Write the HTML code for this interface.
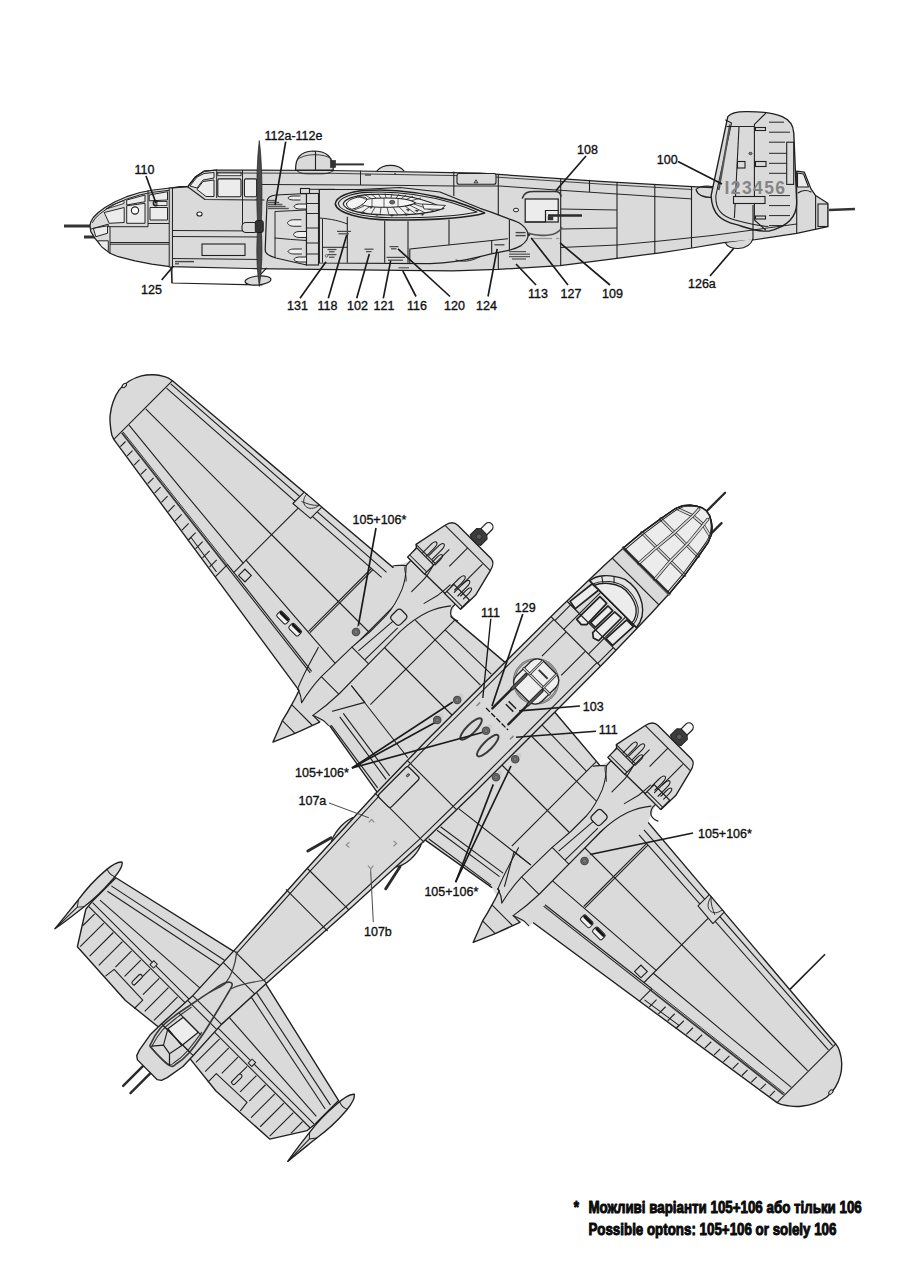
<!DOCTYPE html>
<html><head><meta charset="utf-8"><title>B-25 decal placement</title>
<style>
html,body{margin:0;padding:0;background:#fff;}
body{width:900px;height:1273px;overflow:hidden;position:relative;font-family:"Liberation Sans",sans-serif;}
svg{position:absolute;left:0;top:0;display:block;}
svg text{font-family:"Liberation Sans",sans-serif;}
</style></head><body>
<svg width="900" height="1273" viewBox="0 0 900 1273">
<g id="side">
<line x1="64.0" y1="226.0" x2="91.0" y2="226.0" stroke="#333333" stroke-width="3.0" />
<line x1="84.0" y1="237.0" x2="97.0" y2="237.0" stroke="#333333" stroke-width="3.0" />
<line x1="829.0" y1="210.0" x2="855.0" y2="209.0" stroke="#333333" stroke-width="2.6" />
<polygon points="90.0,225.8 90.8,221.7 93.3,217.5 98.3,212.5 105.0,207.5 115.0,201.7 126.7,196.7 140.0,192.5 153.3,190.0 170.0,188.0 180.0,186.7 187.8,186.7 195.6,176.7 204.4,171.1 216.7,170.0 330.0,170.5 480.0,173.2 600.0,181.3 692.4,186.7 712.0,187.6 760.0,187.0 796.7,187.0 796.7,171.1 804.4,172.2 811.0,188.9 815.6,195.6 827.8,203.3 827.8,226.7 796.7,233.3 753.0,240.0 724.0,242.7 692.0,248.0 660.0,252.8 617.0,258.3 560.0,265.6 498.0,269.4 453.0,270.9 400.0,270.3 250.0,268.5 170.0,266.7 151.7,264.2 135.0,260.8 118.3,256.7 110.0,253.3 101.7,246.7 95.0,238.3 90.8,231.7" fill="#dadada" stroke="#202020" stroke-width="1.24" stroke-linejoin="round" />
<path d="M725.6,243 C728,250 748,252 753,239" fill="#dadada" stroke="#202020" stroke-width="1.1" stroke-linejoin="round" stroke-linecap="round" />
<polyline points="171.0,267.0 172.0,283.0 262.0,285.0" fill="none" stroke="#202020" stroke-width="1.1" stroke-linejoin="round" stroke-linecap="round" />
<line x1="172.0" y1="283.0" x2="172.0" y2="267.0" stroke="#202020" stroke-width="1.1" />
<line x1="252.0" y1="283.5" x2="266.7" y2="267.8" stroke="#202020" stroke-width="1.24" />
<ellipse cx="258.0" cy="280.5" rx="13.0" ry="4.5" fill="#dadada" stroke="#202020" stroke-width="1.1" transform="rotate(-5 258 280.5)"/>
<polygon points="104.2,212.5 124.2,207.5 124.2,222.5 109.2,223.3" fill="#ececec" stroke="#202020" stroke-width="0.97" stroke-linejoin="round" />
<polygon points="126.7,205.8 145.0,203.3 145.0,223.3 126.7,223.3" fill="#ececec" stroke="#202020" stroke-width="0.97" stroke-linejoin="round" />
<polygon points="126.7,200.0 145.0,195.0 145.0,201.7 126.7,205.0" fill="#ececec" stroke="#202020" stroke-width="0.97" stroke-linejoin="round" />
<polygon points="150.0,207.5 167.5,207.5 167.5,220.0 150.0,220.0" fill="#ececec" stroke="#202020" stroke-width="0.97" stroke-linejoin="round" />
<polygon points="149.2,195.0 167.5,191.7 167.5,200.0 149.2,200.8" fill="#ececec" stroke="#202020" stroke-width="0.97" stroke-linejoin="round" />
<polygon points="106.0,209.0 124.0,203.5 124.0,200.5 112.0,205.0" fill="#ececec" stroke="#202020" stroke-width="0.83" stroke-linejoin="round" />
<polygon points="93.3,228.3 107.5,225.8 107.5,233.3 95.8,236.7" fill="#ececec" stroke="#202020" stroke-width="0.97" stroke-linejoin="round" />
<polygon points="97.5,240.8 108.3,240.8 108.3,251.7 101.7,246.7" fill="#ececec" stroke="#202020" stroke-width="0.97" stroke-linejoin="round" />
<circle cx="135.0" cy="210.5" r="3.6" fill="#fff" stroke="#202020" stroke-width="1.1"/>
<circle cx="155.8" cy="203.3" r="2.5" fill="#999" stroke="#202020" stroke-width="1.38"/>
<rect x="157.0" y="201.5" width="10.0" height="4.0" rx="0" fill="#ececec" stroke="#202020" stroke-width="0.83" />
<polyline points="92.5,222.5 95.0,218.5 99.8,213.9 106.3,209.2 116.0,203.6 127.4,198.8 140.5,194.7 153.6,192.2 169.0,190.3" fill="none" stroke="#202020" stroke-width="0.97" stroke-linejoin="round" stroke-linecap="round" />
<line x1="175.0" y1="261.6" x2="194.0" y2="261.6" stroke="#444" stroke-width="1.38" />
<line x1="175.0" y1="263.8" x2="179.0" y2="263.8" stroke="#444" stroke-width="1.24" />
<polyline points="91.0,229.0 108.3,224.2 108.3,226.7 148.0,226.7 148.0,190.5" fill="none" stroke="#202020" stroke-width="0.97" stroke-linejoin="round" stroke-linecap="round" />
<polyline points="110.0,226.7 110.0,253.3" fill="none" stroke="#202020" stroke-width="0.97" stroke-linejoin="round" stroke-linecap="round" />
<line x1="110.0" y1="242.5" x2="169.2" y2="242.5" stroke="#202020" stroke-width="0.97" />
<line x1="110.0" y1="244.2" x2="169.2" y2="244.2" stroke="#202020" stroke-width="0.97" />
<line x1="148.0" y1="223.5" x2="169.2" y2="223.5" stroke="#202020" stroke-width="0.97" />
<rect x="169.2" y="188.0" width="3.3" height="79.0" rx="0" fill="#cfcfcf" stroke="#202020" stroke-width="0.97" />
<path d="M172.5,188 L187.8,186.7 L195.6,176.7 L204.4,171.1 L216.7,170" fill="none" stroke="#202020" stroke-width="1.24" stroke-linejoin="round" stroke-linecap="round" />
<polygon points="190.0,186.0 197.0,177.0 204.0,173.5 214.0,172.5 214.0,178.0 203.0,180.0 197.0,188.0" fill="#ececec" stroke="#202020" stroke-width="0.97" stroke-linejoin="round" />
<polygon points="197.0,189.5 203.0,181.5 214.0,180.0 214.0,196.5 206.0,196.5" fill="#ececec" stroke="#202020" stroke-width="0.97" stroke-linejoin="round" />
<rect x="217.8" y="178.9" width="23.2" height="17.8" rx="1.5" fill="#ececec" stroke="#202020" stroke-width="1.1" />
<rect x="244.4" y="178.9" width="12.3" height="17.8" rx="1.5" fill="#ececec" stroke="#202020" stroke-width="1.1" />
<rect x="217.8" y="172.2" width="23.2" height="3.5" rx="0" fill="#ececec" stroke="#202020" stroke-width="0.83" />
<line x1="216.7" y1="170.0" x2="216.7" y2="198.0" stroke="#202020" stroke-width="0.97" />
<line x1="242.5" y1="170.0" x2="242.5" y2="200.0" stroke="#202020" stroke-width="0.97" />
<polyline points="188.0,187.0 205.0,199.5 264.0,200.0" fill="none" stroke="#202020" stroke-width="1.1" stroke-linejoin="round" stroke-linecap="round" />
<line x1="172.5" y1="230.5" x2="262.0" y2="231.0" stroke="#202020" stroke-width="0.97" />
<line x1="172.5" y1="236.5" x2="262.0" y2="237.0" stroke="#202020" stroke-width="0.97" />
<rect x="202.0" y="244.0" width="43.0" height="11.5" rx="0" fill="#dadada" stroke="#202020" stroke-width="1.1" />
<line x1="172.5" y1="258.5" x2="262.0" y2="259.5" stroke="#202020" stroke-width="0.97" />
<ellipse cx="199.5" cy="214.0" rx="2.6" ry="2.0" fill="#fff" stroke="#202020" stroke-width="1.1" />
<line x1="242.5" y1="200.0" x2="242.5" y2="231.0" stroke="#202020" stroke-width="0.97" />
<rect x="242.0" y="222.5" width="16.0" height="10.0" rx="4" fill="#dadada" stroke="#202020" stroke-width="1.1" />
<polyline points="262.0,184.5 360.0,185.0 456.0,186.0 499.6,186.0 560.7,190.3 617.0,194.0 691.5,198.9" fill="none" stroke="#202020" stroke-width="0.97" stroke-linejoin="round" stroke-linecap="round" />
<polyline points="216.7,173.0 330.0,173.3 480.0,176.0 600.0,184.0 692.0,189.5" fill="none" stroke="#202020" stroke-width="0.83" stroke-linejoin="round" stroke-linecap="round" />
<line x1="360.5" y1="170.7" x2="360.5" y2="185.0" stroke="#202020" stroke-width="0.97" />
<path d="M296.7,170.5 C300,173.5 304,173.8 308,173.8 L322,173.8 C328,173.8 331,172 333.5,170.7" fill="none" stroke="#202020" stroke-width="0.97" stroke-linejoin="round" stroke-linecap="round" />
<line x1="365.0" y1="175.0" x2="371.0" y2="175.0" stroke="#444" stroke-width="1.4" />
<polyline points="560.7,247.5 617.0,245.0 660.0,241.0 712.0,235.5" fill="none" stroke="#202020" stroke-width="0.97" stroke-linejoin="round" stroke-linecap="round" />
<line x1="498.3" y1="174.0" x2="498.3" y2="269.4" stroke="#202020" stroke-width="1.1" />
<line x1="560.7" y1="179.0" x2="560.7" y2="265.5" stroke="#202020" stroke-width="1.1" />
<line x1="617.0" y1="182.3" x2="617.0" y2="258.3" stroke="#202020" stroke-width="1.1" />
<line x1="654.8" y1="184.5" x2="654.8" y2="253.4" stroke="#202020" stroke-width="1.1" />
<line x1="691.5" y1="186.6" x2="691.5" y2="248.0" stroke="#202020" stroke-width="1.1" />
<line x1="560.7" y1="209.0" x2="617.0" y2="210.0" stroke="#202020" stroke-width="0.97" />
<line x1="560.7" y1="229.0" x2="617.0" y2="228.0" stroke="#202020" stroke-width="0.97" />
<path d="M696,189.5 C700,185 708,186 713,186.5 M696,189.5 C698,197 708,197.5 712,197.5" fill="none" stroke="#202020" stroke-width="1.1" stroke-linejoin="round" stroke-linecap="round" />
<path d="M295.6,170 C295.5,158 300,151.5 313,151 C326,151 333,156 333.3,170 Z" fill="#dadada" stroke="#202020" stroke-width="1.24" stroke-linejoin="round" stroke-linecap="round" />
<line x1="315.5" y1="151.0" x2="315.5" y2="170.0" stroke="#202020" stroke-width="1.1" />
<path d="M297,160 C303,153 325,153 331.5,159" fill="none" stroke="#202020" stroke-width="0.83" stroke-linejoin="round" stroke-linecap="round" />
<rect x="330.5" y="160.5" width="5.0" height="7.0" rx="0" fill="#333333" stroke="#333333" stroke-width="0.69" />
<line x1="334.0" y1="164.4" x2="364.0" y2="164.4" stroke="#333333" stroke-width="2.0" />
<path d="M377,170.8 C383,163.5 398,163.5 404,170.8" fill="#dadada" stroke="#202020" stroke-width="1.1" stroke-linejoin="round" stroke-linecap="round" />
<rect x="395.0" y="173.5" width="0.1" height="0.1" rx="0" fill="none" stroke="#202020" stroke-width="1.1" />
<rect x="457.0" y="173.5" width="39.0" height="10.8" rx="2" fill="#dadada" stroke="#202020" stroke-width="1.1" />
<path d="M474.3,182.5 L476,179.8 L477.7,182.5 Z" fill="none" stroke="#333" stroke-width="0.97" stroke-linejoin="round" stroke-linecap="round" />
<line x1="453.8" y1="171.5" x2="453.8" y2="196.0" stroke="#202020" stroke-width="1.1" />
<line x1="589.5" y1="179.8" x2="589.5" y2="192.0" stroke="#202020" stroke-width="1.1" />
<path d="M319.3,189.5 L360,189.5 L400,187.5 L440,192 L480,208.3 L491.1,212.2 L508.9,218.9 C514,220.5 517,221.8 518.9,222.8 C523,225 526.5,229 528.3,233.9 C528.3,237 527.5,238.5 526.7,240 C525,242.5 523.5,244 521.1,245.6 C517,248 514,249 510,250 L491.1,253.9 L480,256.7 C465,260.5 450,263 430,263.6 L319.3,263 Z" fill="#dadada" stroke="#202020" stroke-width="1.24" stroke-linejoin="round" stroke-linecap="round" />
<line x1="509.4" y1="219.4" x2="509.4" y2="250.6" stroke="#202020" stroke-width="1.1" />
<line x1="515.6" y1="232.6" x2="525.6" y2="232.6" stroke="#444" stroke-width="1.38" />
<line x1="515.6" y1="235.6" x2="525.6" y2="235.6" stroke="#444" stroke-width="1.38" />
<rect x="527.6" y="233.0" width="2.4" height="2.6" rx="0" fill="#222" stroke="#222" stroke-width="0.41" />
<line x1="509.0" y1="251.6" x2="526.0" y2="251.6" stroke="#555" stroke-width="1.24" />
<line x1="509.0" y1="254.2" x2="530.0" y2="254.2" stroke="#555" stroke-width="1.24" />
<line x1="509.0" y1="256.6" x2="530.0" y2="256.6" stroke="#555" stroke-width="1.24" />
<line x1="512.0" y1="259.0" x2="526.0" y2="259.0" stroke="#555" stroke-width="1.24" />
<line x1="494.4" y1="244.8" x2="504.4" y2="244.8" stroke="#444" stroke-width="1.3" />
<line x1="347.3" y1="216.7" x2="347.3" y2="262.7" stroke="#202020" stroke-width="1.1" />
<line x1="384.7" y1="220.7" x2="384.7" y2="262.7" stroke="#202020" stroke-width="1.1" />
<line x1="408.0" y1="221.3" x2="408.0" y2="262.7" stroke="#202020" stroke-width="1.1" />
<line x1="322.0" y1="247.3" x2="347.3" y2="247.3" stroke="#202020" stroke-width="0.97" />
<path d="M319.3,218 C332,219 340,221 347.3,224" fill="none" stroke="#202020" stroke-width="0.97" stroke-linejoin="round" stroke-linecap="round" />
<line x1="322.5" y1="219.0" x2="322.5" y2="262.7" stroke="#202020" stroke-width="0.97" />
<polyline points="409.8,263.0 409.8,249.0 491.7,240.5 507.6,238.8" fill="none" stroke="#202020" stroke-width="1.1" stroke-linejoin="round" stroke-linecap="round" />
<line x1="491.7" y1="240.5" x2="491.7" y2="253.5" stroke="#202020" stroke-width="1.1" />
<path d="M456,260 C462,262 470,262 480,256.7" fill="none" stroke="#202020" stroke-width="0.97" stroke-linejoin="round" stroke-linecap="round" />
<line x1="449.0" y1="219.5" x2="449.0" y2="245.0" stroke="#202020" stroke-width="1.1" />
<line x1="327.5" y1="249.5" x2="336.5" y2="249.5" stroke="#4a4a4a" stroke-width="1.24" />
<line x1="329.0" y1="251.8" x2="334.5" y2="251.8" stroke="#4a4a4a" stroke-width="1.24" />
<line x1="327.5" y1="254.6" x2="336.5" y2="254.6" stroke="#4a4a4a" stroke-width="1.24" />
<line x1="329.0" y1="257.2" x2="334.5" y2="257.2" stroke="#4a4a4a" stroke-width="1.24" />
<circle cx="326.5" cy="255.8" r="1.3" fill="none" stroke="#555" stroke-width="0.83"/>
<line x1="337.0" y1="231.4" x2="351.0" y2="231.4" stroke="#4a4a4a" stroke-width="1.24" />
<line x1="338.5" y1="233.8" x2="349.0" y2="233.8" stroke="#4a4a4a" stroke-width="1.24" />
<line x1="364.5" y1="249.2" x2="373.5" y2="249.2" stroke="#4a4a4a" stroke-width="1.24" />
<line x1="366.0" y1="251.6" x2="371.5" y2="251.6" stroke="#4a4a4a" stroke-width="1.24" />
<line x1="389.5" y1="246.6" x2="398.5" y2="246.6" stroke="#4a4a4a" stroke-width="1.24" />
<line x1="391.0" y1="248.8" x2="396.5" y2="248.8" stroke="#4a4a4a" stroke-width="1.24" />
<line x1="386.5" y1="257.4" x2="405.0" y2="257.4" stroke="#4a4a4a" stroke-width="1.24" />
<line x1="388.0" y1="260.2" x2="403.0" y2="260.2" stroke="#4a4a4a" stroke-width="1.24" />
<line x1="398.5" y1="267.8" x2="409.0" y2="267.8" stroke="#4a4a4a" stroke-width="1.1" />
<path d="M335.3,204 C336,197 348,191.5 365.6,190.4 C394,188.6 420,191.5 454.4,201.3 C466,205 476,209 484.7,212.9 C470,217.5 440,220 392,220 C360,219.5 337,213 335.3,204 Z" fill="#e2e2e2" stroke="#202020" stroke-width="1.52" stroke-linejoin="round" stroke-linecap="round" />
<path d="M338.3,204 C339,198.5 350,193.5 366,192.4 C394,190.8 420,193.6 452,202.8 C462,206 470,209 477,212 C462,215.6 438,217.8 392,217.8 C361,217.3 340,211.5 338.3,204 Z" fill="none" stroke="#202020" stroke-width="1.1" stroke-linejoin="round" stroke-linecap="round" />
<path d="M343.3,204 C344,199.5 354,195.5 368,194.6 C392,193.2 420,196 443.8,208.4 C430,213.5 410,215.2 388,215 C362,214.6 344,210 343.3,204 Z" fill="#efefef" stroke="#202020" stroke-width="1.24" stroke-linejoin="round" stroke-linecap="round" />
<path d="M360,202.6 C362,199.5 372,198 386,198 C400,198 412,200 415.5,203 C410,206 398,207.3 385,207.3 C371,207.3 361,205.6 360,202.6 Z" fill="#f4f4f4" stroke="#202020" stroke-width="1.1" stroke-linejoin="round" stroke-linecap="round" />
<path d="M346.5,203.8 C347.5,200.5 353,197.6 360,197 C366,196.7 368,198.5 366,201 C363,204.5 358,208 352,209.3 C348.5,208.3 346.3,206 346.5,203.8 Z" fill="#f4f4f4" stroke="#202020" stroke-width="0.97" stroke-linejoin="round" stroke-linecap="round" />
<line x1="366.0" y1="199.3" x2="357.0" y2="195.6" stroke="#202020" stroke-width="0.76" />
<line x1="371.0" y1="198.4" x2="364.0" y2="194.3" stroke="#202020" stroke-width="0.76" />
<line x1="376.0" y1="198.0" x2="371.0" y2="193.8" stroke="#202020" stroke-width="0.76" />
<line x1="381.0" y1="198.0" x2="378.0" y2="193.5" stroke="#202020" stroke-width="0.76" />
<line x1="386.0" y1="198.0" x2="385.0" y2="193.5" stroke="#202020" stroke-width="0.76" />
<line x1="391.0" y1="198.0" x2="392.0" y2="193.8" stroke="#202020" stroke-width="0.76" />
<line x1="396.0" y1="198.3" x2="399.0" y2="194.2" stroke="#202020" stroke-width="0.76" />
<line x1="401.0" y1="198.8" x2="406.0" y2="195.0" stroke="#202020" stroke-width="0.76" />
<line x1="406.0" y1="199.6" x2="413.0" y2="196.2" stroke="#202020" stroke-width="0.76" />
<line x1="411.0" y1="200.8" x2="421.0" y2="198.0" stroke="#202020" stroke-width="0.76" />
<line x1="364.0" y1="206.0" x2="352.0" y2="211.0" stroke="#202020" stroke-width="0.76" />
<line x1="369.0" y1="207.0" x2="361.0" y2="213.0" stroke="#202020" stroke-width="0.76" />
<line x1="375.0" y1="207.3" x2="371.0" y2="214.2" stroke="#202020" stroke-width="0.76" />
<line x1="381.0" y1="207.4" x2="380.0" y2="214.8" stroke="#202020" stroke-width="0.76" />
<line x1="387.0" y1="207.4" x2="389.0" y2="215.0" stroke="#202020" stroke-width="0.76" />
<line x1="393.0" y1="207.2" x2="398.0" y2="215.0" stroke="#202020" stroke-width="0.76" />
<line x1="399.0" y1="206.8" x2="407.0" y2="214.7" stroke="#202020" stroke-width="0.76" />
<line x1="405.0" y1="206.2" x2="416.0" y2="214.0" stroke="#202020" stroke-width="0.76" />
<line x1="410.0" y1="205.3" x2="425.0" y2="212.8" stroke="#202020" stroke-width="0.76" />
<line x1="414.0" y1="204.0" x2="434.0" y2="211.0" stroke="#202020" stroke-width="0.76" />
<line x1="415.5" y1="203.0" x2="440.0" y2="207.5" stroke="#202020" stroke-width="0.76" />
<line x1="372.0" y1="198.3" x2="372.0" y2="207.2" stroke="#202020" stroke-width="0.69" />
<line x1="384.0" y1="198.0" x2="384.0" y2="207.3" stroke="#202020" stroke-width="0.69" />
<line x1="398.0" y1="198.5" x2="398.0" y2="207.0" stroke="#202020" stroke-width="0.69" />
<ellipse cx="392.2" cy="202.2" rx="2.6" ry="1.9" fill="#666" stroke="#333" stroke-width="0.69" />
<path d="M369.2,206.6 L372.8,206.6 L371,208.5 Z" fill="#333" stroke="#333" stroke-width="0.41" stroke-linejoin="round" stroke-linecap="round" />
<path d="M361.2,211.9 L364.8,211.9 L363,213.8 Z" fill="#333" stroke="#333" stroke-width="0.41" stroke-linejoin="round" stroke-linecap="round" />
<path d="M390.2,214.6 L393.8,214.6 L392,216.5 Z" fill="#333" stroke="#333" stroke-width="0.41" stroke-linejoin="round" stroke-linecap="round" />
<path d="M404.7,213.79999999999998 L408.3,213.79999999999998 L406.5,215.7 Z" fill="#333" stroke="#333" stroke-width="0.41" stroke-linejoin="round" stroke-linecap="round" />
<path d="M406.4,209.29999999999998 L410.0,209.29999999999998 L408.2,211.2 Z" fill="#333" stroke="#333" stroke-width="0.41" stroke-linejoin="round" stroke-linecap="round" />
<path d="M415.2,210.1 L418.8,210.1 L417,212 Z" fill="#333" stroke="#333" stroke-width="0.41" stroke-linejoin="round" stroke-linecap="round" />
<path d="M420.7,213.7 L424.3,213.7 L422.5,215.6 Z" fill="#333" stroke="#333" stroke-width="0.41" stroke-linejoin="round" stroke-linecap="round" />
<path d="M375.2,214.1 L378.8,214.1 L377,216 Z" fill="#333" stroke="#333" stroke-width="0.41" stroke-linejoin="round" stroke-linecap="round" />
<polygon points="422.5,204.0 445.5,205.5 441.0,209.3 424.0,209.0" fill="#f4f4f4" stroke="#202020" stroke-width="0.83" stroke-linejoin="round" />
<path d="M267,202 C267,198 270,195.5 276,195 L306.5,193.5 L306.5,265 L276,258 C269,256 265.2,254 265.2,250 Z" fill="#dadada" stroke="#202020" stroke-width="1.24" stroke-linejoin="round" stroke-linecap="round" />
<line x1="275.0" y1="212.0" x2="275.0" y2="258.0" stroke="#202020" stroke-width="0.97" />
<path d="M275,211.5 C285,211 296,210.5 306.5,210 M275,238 C285,239 296,240 306.5,240.5" fill="none" stroke="#202020" stroke-width="0.97" stroke-linejoin="round" stroke-linecap="round" />
<rect x="306.5" y="193.5" width="12.0" height="71.5" rx="0" fill="#dadada" stroke="#202020" stroke-width="1.1" />
<line x1="306.5" y1="203.5" x2="318.5" y2="203.5" stroke="#202020" stroke-width="0.97" />
<line x1="306.5" y1="213.5" x2="318.5" y2="213.5" stroke="#202020" stroke-width="0.97" />
<line x1="306.5" y1="228.0" x2="318.5" y2="228.0" stroke="#202020" stroke-width="0.97" />
<line x1="306.5" y1="243.0" x2="318.5" y2="243.0" stroke="#202020" stroke-width="0.97" />
<line x1="306.5" y1="254.0" x2="318.5" y2="254.0" stroke="#202020" stroke-width="0.97" />
<rect x="300.5" y="188.5" width="9.0" height="5.0" rx="0" fill="#dadada" stroke="#202020" stroke-width="1.1" />
<line x1="309.5" y1="189.3" x2="335.0" y2="189.3" stroke="#202020" stroke-width="0.97" />
<path d="M300,196.0 L293.4,196.0 C289.8,196.0 288,197.4 288,198 C288,198.6 289.8,200.0 293.4,200.0 L300,200.0" fill="#eee" stroke="#202020" stroke-width="0.97" stroke-linejoin="round" stroke-linecap="round" />
<path d="M306,204.0 L299.4,204.0 C295.8,204.0 294,205.75 294,206.5 C294,207.25 295.8,209.0 299.4,209.0 L306,209.0" fill="#eee" stroke="#202020" stroke-width="0.97" stroke-linejoin="round" stroke-linecap="round" />
<path d="M301.0,219.75 L293.575,219.75 C289.525,219.75 287.5,222.025 287.5,223 C287.5,223.975 289.525,226.25 293.575,226.25 L301.0,226.25" fill="#eee" stroke="#202020" stroke-width="0.97" stroke-linejoin="round" stroke-linecap="round" />
<path d="M306.0,231.5 L299.125,231.5 C295.375,231.5 293.5,233.6 293.5,234.5 C293.5,235.4 295.375,237.5 299.125,237.5 L306.0,237.5" fill="#eee" stroke="#202020" stroke-width="0.97" stroke-linejoin="round" stroke-linecap="round" />
<path d="M301.5,249.0 L294.075,249.0 C290.025,249.0 288,250.75 288,251.5 C288,252.25 290.025,254.0 294.075,254.0 L301.5,254.0" fill="#eee" stroke="#202020" stroke-width="0.97" stroke-linejoin="round" stroke-linecap="round" />
<path d="M306,257.0 L299.4,257.0 C295.8,257.0 294,258.75 294,259.5 C294,260.25 295.8,262.0 299.4,262.0 L306,262.0" fill="#eee" stroke="#202020" stroke-width="0.97" stroke-linejoin="round" stroke-linecap="round" />
<line x1="268.0" y1="200.5" x2="276.0" y2="200.5" stroke="#555" stroke-width="1.38" />
<line x1="268.0" y1="202.5" x2="279.2" y2="202.5" stroke="#555" stroke-width="1.38" />
<line x1="268.0" y1="204.5" x2="282.4" y2="204.5" stroke="#555" stroke-width="1.38" />
<line x1="268.0" y1="206.5" x2="285.6" y2="206.5" stroke="#555" stroke-width="1.38" />
<line x1="268.0" y1="208.5" x2="288.8" y2="208.5" stroke="#555" stroke-width="1.38" />
<path d="M259.3,141 C256.5,160 256.3,200 257.5,222 L261.3,222 C262.5,200 262.2,160 259.3,141 Z" fill="#4a4a4a" stroke="#222" stroke-width="0.69" stroke-linejoin="round" stroke-linecap="round" />
<path d="M259.3,286 C256.5,268 256.3,248 257.5,231 L261.3,231 C262.5,248 262.2,268 259.3,286 Z" fill="#4a4a4a" stroke="#222" stroke-width="0.69" stroke-linejoin="round" stroke-linecap="round" />
<rect x="255.3" y="220.5" width="8.0" height="12.0" rx="2" fill="#333" stroke="#111" stroke-width="0.83" />
<rect x="525.2" y="199.0" width="33.0" height="23.0" rx="0" fill="#ececec" stroke="#202020" stroke-width="1.24" />
<path d="M522.5,198 C524,192.5 528,191.5 534,191.5 L555,191.5 C559,191.5 560.5,193 561,196" fill="none" stroke="#333" stroke-width="1.6" stroke-linejoin="round" stroke-linecap="round" />
<polyline points="525.2,222.0 545.5,222.0 545.5,210.5 558.2,210.5" fill="none" stroke="#202020" stroke-width="1.24" stroke-linejoin="round" stroke-linecap="round" />
<line x1="548.0" y1="215.5" x2="582.0" y2="215.5" stroke="#2a2a2a" stroke-width="2.6" />
<rect x="548.0" y="216.5" width="5.0" height="3.5" rx="0" fill="#333333" stroke="#333333" stroke-width="0.41" />
<ellipse cx="516.0" cy="210.0" rx="2.6" ry="1.8" fill="#eee" stroke="#202020" stroke-width="0.97" />
<path d="M528.9,233.5 C535,235.2 548,236.8 555.6,233.3 C559,231.5 561,229.5 561.7,227.8" fill="none" stroke="#555" stroke-width="1.7" stroke-linejoin="round" stroke-linecap="round" />
<line x1="531.0" y1="238.5" x2="552.0" y2="238.5" stroke="#999" stroke-width="1.24" />
<line x1="556.0" y1="238.5" x2="559.4" y2="238.5" stroke="#999" stroke-width="1.24" />
<path d="M727.8,116.7 C731,112.5 740,111.5 746.7,111.6 C760,111.5 775,113.5 782.2,116.7 C790,120 793.5,127 793.8,133.3 L796.7,202.2 C796.8,215 790,226 768.9,231.1 C755,232 745,227 735.6,224.4 C722,221 712,215 711.1,195.6 Z" fill="#dadada" stroke="#202020" stroke-width="1.38" stroke-linejoin="round" stroke-linecap="round" />
<path d="M725.5,120 L731.5,123 M731.5,123 L715.8,196 C715.5,210 722,216.5 735,220 C748,223.5 758,226 768,226.5" fill="none" stroke="#202020" stroke-width="1.1" stroke-linejoin="round" stroke-linecap="round" />
<line x1="730.0" y1="124.5" x2="718.7" y2="190.0" stroke="#555" stroke-width="2.0" />
<polyline points="765.6,113.3 754.4,124.4 754.4,220.0 765.6,230.0" fill="none" stroke="#202020" stroke-width="1.1" stroke-linejoin="round" stroke-linecap="round" />
<line x1="726.5" y1="126.5" x2="754.4" y2="126.5" stroke="#202020" stroke-width="0.97" />
<line x1="739.0" y1="127.0" x2="734.4" y2="218.0" stroke="#202020" stroke-width="1.1" />
<line x1="754.4" y1="126.5" x2="754.4" y2="126.5" stroke="#202020" stroke-width="1.1" />
<line x1="769.0" y1="122.2" x2="784.0" y2="122.2" stroke="#202020" stroke-width="0.97" />
<line x1="769.0" y1="132.2" x2="790.0" y2="132.2" stroke="#202020" stroke-width="0.97" />
<line x1="769.0" y1="142.2" x2="785.0" y2="142.2" stroke="#202020" stroke-width="0.97" />
<line x1="769.0" y1="153.3" x2="790.0" y2="153.3" stroke="#202020" stroke-width="0.97" />
<line x1="769.0" y1="163.3" x2="790.0" y2="163.3" stroke="#202020" stroke-width="0.97" />
<line x1="769.0" y1="173.3" x2="790.0" y2="173.3" stroke="#202020" stroke-width="0.97" />
<line x1="769.0" y1="195.6" x2="790.0" y2="195.6" stroke="#202020" stroke-width="0.97" />
<line x1="769.0" y1="205.6" x2="790.0" y2="205.6" stroke="#202020" stroke-width="0.97" />
<line x1="769.0" y1="215.6" x2="790.0" y2="215.6" stroke="#202020" stroke-width="0.97" />
<line x1="769.0" y1="225.6" x2="784.0" y2="225.6" stroke="#202020" stroke-width="0.97" />
<rect x="786.7" y="142.2" width="7.0" height="42.2" rx="0" fill="#dadada" stroke="#202020" stroke-width="1.1" />
<rect x="755.5" y="127.5" width="10.0" height="3.0" rx="0" fill="#dadada" stroke="#202020" stroke-width="1.1" />
<rect x="755.5" y="161.5" width="10.5" height="5.0" rx="0" fill="#dadada" stroke="#202020" stroke-width="1.1" />
<rect x="737.5" y="161.5" width="7.5" height="6.5" rx="0" fill="#dadada" stroke="#202020" stroke-width="1.1" />
<rect x="733.5" y="196.5" width="31.5" height="7.0" rx="0" fill="#dadada" stroke="#202020" stroke-width="1.1" />
<rect x="755.5" y="216.0" width="10.0" height="3.0" rx="0" fill="#dadada" stroke="#202020" stroke-width="1.1" />
<ellipse cx="750.5" cy="153.5" rx="1.6" ry="1.2" fill="#888" stroke="#202020" stroke-width="0.69" />
<text x="724.5" y="193.5" font-size="17.5" text-anchor="start" fill="#858585" letter-spacing="1.4" font-weight="bold">I23456</text>
<polygon points="797.5,173.0 803.5,174.0 808.5,187.0 797.5,187.0" fill="#ececec" stroke="#202020" stroke-width="1.1" stroke-linejoin="round" />
<path d="M798,193 C802,189.5 808,190 811,192" fill="none" stroke="#202020" stroke-width="1.1" stroke-linejoin="round" stroke-linecap="round" />
<line x1="796.7" y1="188.0" x2="796.7" y2="233.0" stroke="#202020" stroke-width="1.1" />
<line x1="815.6" y1="195.6" x2="815.6" y2="229.3" stroke="#202020" stroke-width="1.1" />
<rect x="818.0" y="204.0" width="9.8" height="22.5" rx="0" fill="#dadada" stroke="#202020" stroke-width="1.1" />
<line x1="753.0" y1="205.0" x2="753.0" y2="239.5" stroke="#202020" stroke-width="1.1" />
<polyline points="712.0,235.5 753.0,230.0 796.7,224.0" fill="none" stroke="#202020" stroke-width="0.97" stroke-linejoin="round" stroke-linecap="round" />
</g>
<g id="top" transform="translate(450,765) rotate(-45)">
<g transform="translate(0,1.0) scale(1,1)">
<path d="M111.9,30 L75.5,469 C74.6,475.2 74.2,474.6 72.7,477.5C71.2,480.4 69.0,483.7 66.4,486.5C63.8,489.3 60.6,492.2 57.0,494.3C53.4,496.4 49.1,498.3 44.8,499.3C40.5,500.3 35.8,500.8 31.4,500.2C27.0,499.6 22.6,497.9 18.5,496.0C14.4,494.1 10.4,491.4 7.1,488.7C3.8,486.0 1.2,483.1 -1.2,479.8C-3.6,476.5 -5.7,475.6 -7.5,469.0 L-53.6,163 L-59.7,126 L-57.1,115 L-71.3,30 Z" fill="#dadada" stroke="none" stroke-width="0" stroke-linejoin="round" stroke-linecap="round" />
<path d="M111.9,30 L75.5,469 C74.6,475.2 74.2,474.6 72.7,477.5C71.2,480.4 69.0,483.7 66.4,486.5C63.8,489.3 60.6,492.2 57.0,494.3C53.4,496.4 49.1,498.3 44.8,499.3C40.5,500.3 35.8,500.8 31.4,500.2C27.0,499.6 22.6,497.9 18.5,496.0C14.4,494.1 10.4,491.4 7.1,488.7C3.8,486.0 1.2,483.1 -1.2,479.8C-3.6,476.5 -5.7,475.6 -7.5,469.0 L-53.8,162 M-57.1,115 L-71.3,30" fill="none" stroke="#202020" stroke-width="1.38" stroke-linejoin="round" stroke-linecap="round" />
<line x1="75.5" y1="469.0" x2="-7.5" y2="469.0" stroke="#202020" stroke-width="1.1" />
<ellipse cx="38.0" cy="499.6" rx="2.6" ry="1.6" fill="#dadada" stroke="#202020" stroke-width="0.97" />
<line x1="91.3" y1="182.0" x2="72.1" y2="468.0" stroke="#202020" stroke-width="1.1" />
<line x1="84.3" y1="182.0" x2="66.1" y2="468.0" stroke="#202020" stroke-width="1.1" />
<line x1="36.7" y1="35.0" x2="36.7" y2="468.0" stroke="#202020" stroke-width="1.1" />
<polyline points="-9.4,153.0 0.6,290.0" fill="none" stroke="#202020" stroke-width="1.1" stroke-linejoin="round" stroke-linecap="round" />
<polyline points="-3.5,290.0 5.3,387.0 13.4,468.0" fill="none" stroke="#202020" stroke-width="1.1" stroke-linejoin="round" stroke-linecap="round" />
<line x1="75.4" y1="290.0" x2="-16.6" y2="290.0" stroke="#202020" stroke-width="1.1" />
<polygon points="89.8,297.0 91.7,274.0 75.7,274.0 73.8,297.0" fill="#dadada" stroke="#202020" stroke-width="1.1" stroke-linejoin="round" />
<path d="M90.4,294 C77.4,293 77.4,279 91.2,277 M81.4,292 C84.4,286 85.4,282 91.2,277" fill="none" stroke="#202020" stroke-width="0.83" stroke-linejoin="round" stroke-linecap="round" />
<line x1="-17.4" y1="300.0" x2="2.8" y2="468.0" stroke="#3a3a3a" stroke-width="1.8" />
<line x1="-15.5" y1="300.0" x2="4.4" y2="468.0" stroke="#202020" stroke-width="0.83" />
<line x1="-33.0" y1="300.0" x2="-15.4" y2="300.0" stroke="#202020" stroke-width="1.1" />
<line x1="-30.3" y1="311.0" x2="-19.9" y2="311.0" stroke="#202020" stroke-width="1.1" />
<line x1="-28.6" y1="322.4" x2="-18.5" y2="322.4" stroke="#202020" stroke-width="1.1" />
<line x1="-26.9" y1="333.8" x2="-17.0" y2="333.8" stroke="#202020" stroke-width="1.1" />
<line x1="-25.2" y1="345.2" x2="-15.5" y2="345.2" stroke="#202020" stroke-width="1.1" />
<line x1="-23.4" y1="356.6" x2="-14.0" y2="356.6" stroke="#202020" stroke-width="1.1" />
<line x1="-21.7" y1="368.0" x2="-12.5" y2="368.0" stroke="#202020" stroke-width="1.1" />
<line x1="-20.0" y1="379.4" x2="-11.0" y2="379.4" stroke="#202020" stroke-width="1.1" />
<line x1="-18.3" y1="390.8" x2="-9.6" y2="390.8" stroke="#202020" stroke-width="1.1" />
<line x1="-16.6" y1="402.2" x2="-8.1" y2="402.2" stroke="#202020" stroke-width="1.1" />
<line x1="-14.8" y1="413.6" x2="-6.6" y2="413.6" stroke="#202020" stroke-width="1.1" />
<line x1="-13.1" y1="425.0" x2="-5.1" y2="425.0" stroke="#202020" stroke-width="1.1" />
<line x1="-11.4" y1="436.4" x2="-3.6" y2="436.4" stroke="#202020" stroke-width="1.1" />
<line x1="-9.7" y1="447.8" x2="-2.2" y2="447.8" stroke="#202020" stroke-width="1.1" />
<line x1="-8.0" y1="459.2" x2="-0.7" y2="459.2" stroke="#202020" stroke-width="1.1" />
<polyline points="-28.5,303.0 -22.2,345.0 -26.2,345.0" fill="none" stroke="#202020" stroke-width="0.97" stroke-linejoin="round" stroke-linecap="round" />
<line x1="-33.6" y1="165.0" x2="-17.4" y2="300.0" stroke="#202020" stroke-width="1.1" />
<line x1="-31.7" y1="165.0" x2="-15.5" y2="300.0" stroke="#202020" stroke-width="1.1" />
<line x1="-5.5" y1="193.6" x2="83.3" y2="193.6" stroke="#202020" stroke-width="1.1" />
<line x1="-5.5" y1="195.6" x2="83.3" y2="195.6" stroke="#202020" stroke-width="1.1" />
<rect x="-15.5" y="275.5" width="9.0" height="9.0" rx="0" fill="#dadada" stroke="#202020" stroke-width="1.1" />
<g transform="translate(-13.8,223.3)"><rect x="-3.6" y="-6.5" width="7.2" height="13" rx="2" fill="#f0f0f0" stroke="#202020" stroke-width="1.0"/><rect x="0.3" y="-6" width="3" height="12" rx="1.2" fill="#161616"/></g>
<g transform="translate(-13.8,206.2)"><rect x="-3.6" y="-6.5" width="7.2" height="13" rx="2" fill="#f0f0f0" stroke="#202020" stroke-width="1.0"/><rect x="0.3" y="-6" width="3" height="12" rx="1.2" fill="#161616"/></g>
<line x1="86.7" y1="153.0" x2="-28.0" y2="153.0" stroke="#202020" stroke-width="1.1" />
<line x1="106.1" y1="100.0" x2="-13.6" y2="100.0" stroke="#202020" stroke-width="1.1" />
<line x1="78.0" y1="36.0" x2="78.0" y2="128.0" stroke="#202020" stroke-width="1.1" />
<line x1="93.4" y1="36.0" x2="92.1" y2="100.0" stroke="#202020" stroke-width="1.1" />
<line x1="-67.3" y1="36.0" x2="-55.9" y2="113.0" stroke="#202020" stroke-width="1.1" />
<line x1="-55.3" y1="36.0" x2="-43.9" y2="113.0" stroke="#202020" stroke-width="1.1" />
<line x1="-50.3" y1="36.0" x2="-38.9" y2="113.0" stroke="#202020" stroke-width="1.1" />
<line x1="-24.7" y1="36.0" x2="-13.6" y2="126.7" stroke="#202020" stroke-width="1.1" />
<path d="M-13.6,126.7 L-15.9,105.5 L-62.5,132" fill="none" stroke="#202020" stroke-width="1.1" stroke-linejoin="round" stroke-linecap="round" />
</g>
<g transform="translate(0,1.0) scale(1,-1)">
<path d="M111.9,30 L75.5,469 C74.6,475.2 74.2,474.6 72.7,477.5C71.2,480.4 69.0,483.7 66.4,486.5C63.8,489.3 60.6,492.2 57.0,494.3C53.4,496.4 49.1,498.3 44.8,499.3C40.5,500.3 35.8,500.8 31.4,500.2C27.0,499.6 22.6,497.9 18.5,496.0C14.4,494.1 10.4,491.4 7.1,488.7C3.8,486.0 1.2,483.1 -1.2,479.8C-3.6,476.5 -5.7,475.6 -7.5,469.0 L-53.6,163 L-59.7,126 L-57.1,115 L-71.3,30 Z" fill="#dadada" stroke="none" stroke-width="0" stroke-linejoin="round" stroke-linecap="round" />
<path d="M111.9,30 L75.5,469 C74.6,475.2 74.2,474.6 72.7,477.5C71.2,480.4 69.0,483.7 66.4,486.5C63.8,489.3 60.6,492.2 57.0,494.3C53.4,496.4 49.1,498.3 44.8,499.3C40.5,500.3 35.8,500.8 31.4,500.2C27.0,499.6 22.6,497.9 18.5,496.0C14.4,494.1 10.4,491.4 7.1,488.7C3.8,486.0 1.2,483.1 -1.2,479.8C-3.6,476.5 -5.7,475.6 -7.5,469.0 L-53.8,162 M-57.1,115 L-71.3,30" fill="none" stroke="#202020" stroke-width="1.38" stroke-linejoin="round" stroke-linecap="round" />
<line x1="75.5" y1="469.0" x2="-7.5" y2="469.0" stroke="#202020" stroke-width="1.1" />
<ellipse cx="38.0" cy="499.6" rx="2.6" ry="1.6" fill="#dadada" stroke="#202020" stroke-width="0.97" />
<line x1="91.3" y1="182.0" x2="72.1" y2="468.0" stroke="#202020" stroke-width="1.1" />
<line x1="84.3" y1="182.0" x2="66.1" y2="468.0" stroke="#202020" stroke-width="1.1" />
<line x1="36.7" y1="35.0" x2="36.7" y2="468.0" stroke="#202020" stroke-width="1.1" />
<polyline points="-9.4,153.0 0.6,290.0" fill="none" stroke="#202020" stroke-width="1.1" stroke-linejoin="round" stroke-linecap="round" />
<polyline points="-3.5,290.0 5.3,387.0 13.4,468.0" fill="none" stroke="#202020" stroke-width="1.1" stroke-linejoin="round" stroke-linecap="round" />
<line x1="75.4" y1="290.0" x2="-16.6" y2="290.0" stroke="#202020" stroke-width="1.1" />
<polygon points="89.8,297.0 91.7,274.0 75.7,274.0 73.8,297.0" fill="#dadada" stroke="#202020" stroke-width="1.1" stroke-linejoin="round" />
<path d="M90.4,294 C77.4,293 77.4,279 91.2,277 M81.4,292 C84.4,286 85.4,282 91.2,277" fill="none" stroke="#202020" stroke-width="0.83" stroke-linejoin="round" stroke-linecap="round" />
<line x1="-17.4" y1="300.0" x2="2.8" y2="468.0" stroke="#3a3a3a" stroke-width="1.8" />
<line x1="-15.5" y1="300.0" x2="4.4" y2="468.0" stroke="#202020" stroke-width="0.83" />
<line x1="-33.0" y1="300.0" x2="-15.4" y2="300.0" stroke="#202020" stroke-width="1.1" />
<line x1="-30.3" y1="311.0" x2="-19.9" y2="311.0" stroke="#202020" stroke-width="1.1" />
<line x1="-28.6" y1="322.4" x2="-18.5" y2="322.4" stroke="#202020" stroke-width="1.1" />
<line x1="-26.9" y1="333.8" x2="-17.0" y2="333.8" stroke="#202020" stroke-width="1.1" />
<line x1="-25.2" y1="345.2" x2="-15.5" y2="345.2" stroke="#202020" stroke-width="1.1" />
<line x1="-23.4" y1="356.6" x2="-14.0" y2="356.6" stroke="#202020" stroke-width="1.1" />
<line x1="-21.7" y1="368.0" x2="-12.5" y2="368.0" stroke="#202020" stroke-width="1.1" />
<line x1="-20.0" y1="379.4" x2="-11.0" y2="379.4" stroke="#202020" stroke-width="1.1" />
<line x1="-18.3" y1="390.8" x2="-9.6" y2="390.8" stroke="#202020" stroke-width="1.1" />
<line x1="-16.6" y1="402.2" x2="-8.1" y2="402.2" stroke="#202020" stroke-width="1.1" />
<line x1="-14.8" y1="413.6" x2="-6.6" y2="413.6" stroke="#202020" stroke-width="1.1" />
<line x1="-13.1" y1="425.0" x2="-5.1" y2="425.0" stroke="#202020" stroke-width="1.1" />
<line x1="-11.4" y1="436.4" x2="-3.6" y2="436.4" stroke="#202020" stroke-width="1.1" />
<line x1="-9.7" y1="447.8" x2="-2.2" y2="447.8" stroke="#202020" stroke-width="1.1" />
<line x1="-8.0" y1="459.2" x2="-0.7" y2="459.2" stroke="#202020" stroke-width="1.1" />
<polyline points="-28.5,303.0 -22.2,345.0 -26.2,345.0" fill="none" stroke="#202020" stroke-width="0.97" stroke-linejoin="round" stroke-linecap="round" />
<line x1="-33.6" y1="165.0" x2="-17.4" y2="300.0" stroke="#202020" stroke-width="1.1" />
<line x1="-31.7" y1="165.0" x2="-15.5" y2="300.0" stroke="#202020" stroke-width="1.1" />
<line x1="-5.5" y1="193.6" x2="83.3" y2="193.6" stroke="#202020" stroke-width="1.1" />
<line x1="-5.5" y1="195.6" x2="83.3" y2="195.6" stroke="#202020" stroke-width="1.1" />
<rect x="-15.5" y="275.5" width="9.0" height="9.0" rx="0" fill="#dadada" stroke="#202020" stroke-width="1.1" />
<g transform="translate(-13.8,223.3)"><rect x="-3.6" y="-6.5" width="7.2" height="13" rx="2" fill="#f0f0f0" stroke="#202020" stroke-width="1.0"/><rect x="0.3" y="-6" width="3" height="12" rx="1.2" fill="#161616"/></g>
<g transform="translate(-13.8,206.2)"><rect x="-3.6" y="-6.5" width="7.2" height="13" rx="2" fill="#f0f0f0" stroke="#202020" stroke-width="1.0"/><rect x="0.3" y="-6" width="3" height="12" rx="1.2" fill="#161616"/></g>
<line x1="86.7" y1="153.0" x2="-28.0" y2="153.0" stroke="#202020" stroke-width="1.1" />
<line x1="106.1" y1="100.0" x2="-13.6" y2="100.0" stroke="#202020" stroke-width="1.1" />
<line x1="78.0" y1="36.0" x2="78.0" y2="128.0" stroke="#202020" stroke-width="1.1" />
<line x1="93.4" y1="36.0" x2="92.1" y2="100.0" stroke="#202020" stroke-width="1.1" />
<line x1="-67.3" y1="36.0" x2="-55.9" y2="113.0" stroke="#202020" stroke-width="1.1" />
<line x1="-55.3" y1="36.0" x2="-43.9" y2="113.0" stroke="#202020" stroke-width="1.1" />
<line x1="-50.3" y1="36.0" x2="-38.9" y2="113.0" stroke="#202020" stroke-width="1.1" />
<line x1="-24.7" y1="36.0" x2="-13.6" y2="126.7" stroke="#202020" stroke-width="1.1" />
<path d="M-13.6,126.7 L-15.9,105.5 L-62.5,132" fill="none" stroke="#202020" stroke-width="1.1" stroke-linejoin="round" stroke-linecap="round" />
</g>
<line x1="81.4" y1="399.0" x2="131.4" y2="399.0" stroke="#202020" stroke-width="1.66" />
<g transform="translate(0,142.2)">
<path d="M-48,-26 L-53.7,-20.7 L-54.2,-18.3 C-60,-16.5 -64,-15 -69.3,-13.6 C-76,-11.5 -82,-10 -87.2,-8.9 C-96,-5.5 -103,-2.5 -109,-0.4 C-101,3 -94,6 -87.2,9 C-78,12.5 -70,15.5 -61.8,18.4 L-58,20.3 L-58,28 L-45,28 Z" fill="#dadada" stroke="none" stroke-width="0" stroke-linejoin="round" stroke-linecap="round" />
<path d="M-53.7,-20.7 L-54.2,-18.3 C-60,-16.5 -64,-15 -69.3,-13.6 C-76,-11.5 -82,-10 -87.2,-8.9 C-96,-5.5 -103,-2.5 -109,-0.4 C-101,3 -94,6 -87.2,9 C-78,12.5 -70,15.5 -61.8,18.4" fill="none" stroke="#202020" stroke-width="1.38" stroke-linejoin="round" stroke-linecap="round" />
<path d="M-53.7,-20.7 C-54.5,-18 -57,-12 -60.8,-8" fill="none" stroke="#202020" stroke-width="1.1" stroke-linejoin="round" stroke-linecap="round" />
<path d="M-61.8,9 C-60,14 -58.5,18 -58,20.3 L-58,27" fill="none" stroke="#202020" stroke-width="1.1" stroke-linejoin="round" stroke-linecap="round" />
<path d="M-61.8,9 L-61.8,18.4" fill="none" stroke="#202020" stroke-width="1.1" stroke-linejoin="round" stroke-linecap="round" />
<line x1="-87.2" y1="-8.9" x2="-87.2" y2="9.0" stroke="#202020" stroke-width="1.1" />
<line x1="-69.3" y1="-13.6" x2="-69.3" y2="15.5" stroke="#202020" stroke-width="1.1" />
<path d="M-60.8,-8 C-50,-10.5 -40,-12.2 -28.8,-12.5 L14,-11.7 L38,-9.8 L61,-9.8 C70,-10.3 80,-13 90,-17 C99,-21 104,-25 110,-31 L118,-31 L118,31 L113,29 C106,23.5 100,20 92,17 C82,13.5 70,11.8 59,11.4 L37,11.8 L-28.3,12.3 C-40,12 -50,11 -61.8,9 Z" fill="#dadada" stroke="none" stroke-width="0" stroke-linejoin="round" stroke-linecap="round" />
<line x1="14.0" y1="6.3" x2="60.0" y2="7.0" stroke="#202020" stroke-width="1.1" />
<path d="M-60.8,-8 C-50,-10.5 -40,-12.2 -28.8,-12.5 L14,-11.7" fill="none" stroke="#202020" stroke-width="1.1" stroke-linejoin="round" stroke-linecap="round" />
<path d="M-61.8,9 C-50,11 -40,12 -28.3,12.3 L37,11.8" fill="none" stroke="#202020" stroke-width="1.1" stroke-linejoin="round" stroke-linecap="round" />
<line x1="-28.6" y1="-12.5" x2="-28.6" y2="12.3" stroke="#202020" stroke-width="1.1" />
<line x1="14.0" y1="-11.7" x2="14.0" y2="11.9" stroke="#202020" stroke-width="1.1" />
<path d="M-10,-35.3 C-20,-32 -35,-28.5 -53.7,-20.7" fill="none" stroke="#202020" stroke-width="1.1" stroke-linejoin="round" stroke-linecap="round" />
<path d="M118,-31 L96,-40 L96,40 L118,31 Z" fill="#dadada" stroke="none" stroke-width="0" stroke-linejoin="round" stroke-linecap="round" />
<path d="M117,-31.5 L110,-31 C107,-34 104,-38 100.4,-40" fill="none" stroke="#202020" stroke-width="1.24" stroke-linejoin="round" stroke-linecap="round" />
<path d="M108,-31 C104,-28 104,-24 99,-20" fill="none" stroke="#202020" stroke-width="0.83" stroke-linejoin="round" stroke-linecap="round" />
<path d="M117,31 L113,31 C107,33 104,37 107.4,44.5" fill="none" stroke="#202020" stroke-width="1.24" stroke-linejoin="round" stroke-linecap="round" />
<path d="M117,-35 L130,-36.5 L132,-39 L166,-32 C171,-31 175,-28 175,-23 L175,24 C175,28 171,31 166,32 L138,39 L118,38.5 Z" fill="#dadada" stroke="#202020" stroke-width="1.38" stroke-linejoin="round" stroke-linecap="round" />
<line x1="166.0" y1="-32.0" x2="166.0" y2="32.0" stroke="#202020" stroke-width="1.1" />
<line x1="132.0" y1="-39.0" x2="132.0" y2="-12.0" stroke="#202020" stroke-width="1.1" />
<line x1="140.0" y1="0.0" x2="166.0" y2="0.0" stroke="#202020" stroke-width="1.1" />
<line x1="135.0" y1="22.0" x2="165.0" y2="22.0" stroke="#202020" stroke-width="1.1" />
<line x1="130.0" y1="-12.0" x2="152.0" y2="-12.0" stroke="#202020" stroke-width="1.1" />
<rect x="117.0" y="-36.0" width="13.0" height="24.0" rx="0" fill="#dadada" stroke="#202020" stroke-width="1.24" />
<rect x="117.5" y="16.0" width="13.0" height="22.0" rx="0" fill="#dadada" stroke="#202020" stroke-width="1.24" />
<line x1="120.0" y1="-36.0" x2="120.0" y2="-12.0" stroke="#202020" stroke-width="0.97" />
<line x1="120.5" y1="16.0" x2="120.5" y2="38.0" stroke="#202020" stroke-width="0.97" />
<path d="M131,-28.5 L141.2,-28.5 C146.3,-28.5 148,-27.0 148,-26 C148,-25.0 146.3,-23.5 141.2,-23.5 L131,-23.5" fill="none" stroke="#202020" stroke-width="1.1" stroke-linejoin="round" stroke-linecap="round" />
<path d="M133,-22.0 L144.4,-22.0 C150.1,-22.0 152,-20.5 152,-19.5 C152,-18.5 150.1,-17.0 144.4,-17.0 L133,-17.0" fill="none" stroke="#202020" stroke-width="1.1" stroke-linejoin="round" stroke-linecap="round" />
<path d="M131,-15.0 L138.2,-15.0 C141.8,-15.0 143,-13.8 143,-13 C143,-12.2 141.8,-11.0 138.2,-11.0 L131,-11.0" fill="none" stroke="#202020" stroke-width="1.1" stroke-linejoin="round" stroke-linecap="round" />
<path d="M127,15.5 L137.2,15.5 C142.3,15.5 144,17.0 144,18 C144,19.0 142.3,20.5 137.2,20.5 L127,20.5" fill="none" stroke="#202020" stroke-width="1.1" stroke-linejoin="round" stroke-linecap="round" />
<path d="M125,22.0 L136.4,22.0 C142.1,22.0 144,23.5 144,24.5 C144,25.5 142.1,27.0 136.4,27.0 L125,27.0" fill="none" stroke="#202020" stroke-width="1.1" stroke-linejoin="round" stroke-linecap="round" />
<path d="M127,29.0 L134.8,29.0 C138.7,29.0 140,30.2 140,31 C140,31.8 138.7,33.0 134.8,33.0 L127,33.0" fill="none" stroke="#202020" stroke-width="1.1" stroke-linejoin="round" stroke-linecap="round" />
<path d="M110,-31 C104,-25 99,-21 90,-17 C80,-13 70,-10.3 61,-9.8 L38,-9.8 L14,-11.7" fill="none" stroke="#202020" stroke-width="1.1" stroke-linejoin="round" stroke-linecap="round" />
<path d="M113,29 C106,23.5 100,20 92,17 C82,13.5 70,11.8 59,11.4 L37,11.8" fill="none" stroke="#202020" stroke-width="1.1" stroke-linejoin="round" stroke-linecap="round" />
<path d="M130,-12.2 C122,-10 116,-8.7 112,-8.7 L95.5,-8.7" fill="none" stroke="#202020" stroke-width="1.1" stroke-linejoin="round" stroke-linecap="round" />
<path d="M127.5,13.7 C120,13.5 116,13 112,12.5 L96,8.4" fill="none" stroke="#202020" stroke-width="1.1" stroke-linejoin="round" stroke-linecap="round" />
<line x1="16.0" y1="-4.5" x2="61.5" y2="-1.0" stroke="#202020" stroke-width="1.1" />
<rect x="61.3" y="-6.0" width="14.0" height="12.6" rx="3.5" fill="#dadada" stroke="#202020" stroke-width="1.24" />
<rect x="178.0" y="-4.3" width="22.0" height="8.6" rx="4.3" fill="#f6f6f6" stroke="#202020" stroke-width="1.24" />
<polygon points="177.0,-7.5 186.0,-7.5 189.0,-4.0 189.0,4.0 186.0,7.5 177.0,7.5 175.3,4.0 175.3,-4.0" fill="#3c3c3c" stroke="#222" stroke-width="0.97" stroke-linejoin="round" />
<circle cx="182.0" cy="0.0" r="2.8" fill="#5a5a5a" stroke="#222" stroke-width="0.69"/>
</g>
<g transform="translate(0,-141.0)">
<path d="M-48,-26 L-53.7,-20.7 L-54.2,-18.3 C-60,-16.5 -64,-15 -69.3,-13.6 C-76,-11.5 -82,-10 -87.2,-8.9 C-96,-5.5 -103,-2.5 -109,-0.4 C-101,3 -94,6 -87.2,9 C-78,12.5 -70,15.5 -61.8,18.4 L-58,20.3 L-58,28 L-45,28 Z" fill="#dadada" stroke="none" stroke-width="0" stroke-linejoin="round" stroke-linecap="round" />
<path d="M-53.7,-20.7 L-54.2,-18.3 C-60,-16.5 -64,-15 -69.3,-13.6 C-76,-11.5 -82,-10 -87.2,-8.9 C-96,-5.5 -103,-2.5 -109,-0.4 C-101,3 -94,6 -87.2,9 C-78,12.5 -70,15.5 -61.8,18.4" fill="none" stroke="#202020" stroke-width="1.38" stroke-linejoin="round" stroke-linecap="round" />
<path d="M-53.7,-20.7 C-54.5,-18 -57,-12 -60.8,-8" fill="none" stroke="#202020" stroke-width="1.1" stroke-linejoin="round" stroke-linecap="round" />
<path d="M-61.8,9 C-60,14 -58.5,18 -58,20.3 L-58,27" fill="none" stroke="#202020" stroke-width="1.1" stroke-linejoin="round" stroke-linecap="round" />
<path d="M-61.8,9 L-61.8,18.4" fill="none" stroke="#202020" stroke-width="1.1" stroke-linejoin="round" stroke-linecap="round" />
<line x1="-87.2" y1="-8.9" x2="-87.2" y2="9.0" stroke="#202020" stroke-width="1.1" />
<line x1="-69.3" y1="-13.6" x2="-69.3" y2="15.5" stroke="#202020" stroke-width="1.1" />
<path d="M-60.8,-8 C-50,-10.5 -40,-12.2 -28.8,-12.5 L14,-11.7 L38,-9.8 L61,-9.8 C70,-10.3 80,-13 90,-17 C99,-21 104,-25 110,-31 L118,-31 L118,31 L113,29 C106,23.5 100,20 92,17 C82,13.5 70,11.8 59,11.4 L37,11.8 L-28.3,12.3 C-40,12 -50,11 -61.8,9 Z" fill="#dadada" stroke="none" stroke-width="0" stroke-linejoin="round" stroke-linecap="round" />
<line x1="14.0" y1="6.3" x2="60.0" y2="7.0" stroke="#202020" stroke-width="1.1" />
<path d="M-60.8,-8 C-50,-10.5 -40,-12.2 -28.8,-12.5 L14,-11.7" fill="none" stroke="#202020" stroke-width="1.1" stroke-linejoin="round" stroke-linecap="round" />
<path d="M-61.8,9 C-50,11 -40,12 -28.3,12.3 L37,11.8" fill="none" stroke="#202020" stroke-width="1.1" stroke-linejoin="round" stroke-linecap="round" />
<line x1="-28.6" y1="-12.5" x2="-28.6" y2="12.3" stroke="#202020" stroke-width="1.1" />
<line x1="14.0" y1="-11.7" x2="14.0" y2="11.9" stroke="#202020" stroke-width="1.1" />
<path d="M-10,-35.3 C-20,-32 -35,-28.5 -53.7,-20.7" fill="none" stroke="#202020" stroke-width="1.1" stroke-linejoin="round" stroke-linecap="round" />
<path d="M118,-31 L96,-40 L96,40 L118,31 Z" fill="#dadada" stroke="none" stroke-width="0" stroke-linejoin="round" stroke-linecap="round" />
<path d="M117,-31.5 L110,-31 C107,-34 104,-38 100.4,-40" fill="none" stroke="#202020" stroke-width="1.24" stroke-linejoin="round" stroke-linecap="round" />
<path d="M108,-31 C104,-28 104,-24 99,-20" fill="none" stroke="#202020" stroke-width="0.83" stroke-linejoin="round" stroke-linecap="round" />
<path d="M117,31 L113,31 C107,33 104,37 107.4,44.5" fill="none" stroke="#202020" stroke-width="1.24" stroke-linejoin="round" stroke-linecap="round" />
<path d="M117,-35 L130,-36.5 L132,-39 L166,-32 C171,-31 175,-28 175,-23 L175,24 C175,28 171,31 166,32 L138,39 L118,38.5 Z" fill="#dadada" stroke="#202020" stroke-width="1.38" stroke-linejoin="round" stroke-linecap="round" />
<line x1="166.0" y1="-32.0" x2="166.0" y2="32.0" stroke="#202020" stroke-width="1.1" />
<line x1="132.0" y1="-39.0" x2="132.0" y2="-12.0" stroke="#202020" stroke-width="1.1" />
<line x1="140.0" y1="0.0" x2="166.0" y2="0.0" stroke="#202020" stroke-width="1.1" />
<line x1="135.0" y1="22.0" x2="165.0" y2="22.0" stroke="#202020" stroke-width="1.1" />
<line x1="130.0" y1="-12.0" x2="152.0" y2="-12.0" stroke="#202020" stroke-width="1.1" />
<rect x="117.0" y="-36.0" width="13.0" height="24.0" rx="0" fill="#dadada" stroke="#202020" stroke-width="1.24" />
<rect x="117.5" y="16.0" width="13.0" height="22.0" rx="0" fill="#dadada" stroke="#202020" stroke-width="1.24" />
<line x1="120.0" y1="-36.0" x2="120.0" y2="-12.0" stroke="#202020" stroke-width="0.97" />
<line x1="120.5" y1="16.0" x2="120.5" y2="38.0" stroke="#202020" stroke-width="0.97" />
<path d="M131,-28.5 L141.2,-28.5 C146.3,-28.5 148,-27.0 148,-26 C148,-25.0 146.3,-23.5 141.2,-23.5 L131,-23.5" fill="none" stroke="#202020" stroke-width="1.1" stroke-linejoin="round" stroke-linecap="round" />
<path d="M133,-22.0 L144.4,-22.0 C150.1,-22.0 152,-20.5 152,-19.5 C152,-18.5 150.1,-17.0 144.4,-17.0 L133,-17.0" fill="none" stroke="#202020" stroke-width="1.1" stroke-linejoin="round" stroke-linecap="round" />
<path d="M131,-15.0 L138.2,-15.0 C141.8,-15.0 143,-13.8 143,-13 C143,-12.2 141.8,-11.0 138.2,-11.0 L131,-11.0" fill="none" stroke="#202020" stroke-width="1.1" stroke-linejoin="round" stroke-linecap="round" />
<path d="M127,15.5 L137.2,15.5 C142.3,15.5 144,17.0 144,18 C144,19.0 142.3,20.5 137.2,20.5 L127,20.5" fill="none" stroke="#202020" stroke-width="1.1" stroke-linejoin="round" stroke-linecap="round" />
<path d="M125,22.0 L136.4,22.0 C142.1,22.0 144,23.5 144,24.5 C144,25.5 142.1,27.0 136.4,27.0 L125,27.0" fill="none" stroke="#202020" stroke-width="1.1" stroke-linejoin="round" stroke-linecap="round" />
<path d="M127,29.0 L134.8,29.0 C138.7,29.0 140,30.2 140,31 C140,31.8 138.7,33.0 134.8,33.0 L127,33.0" fill="none" stroke="#202020" stroke-width="1.1" stroke-linejoin="round" stroke-linecap="round" />
<path d="M110,-31 C104,-25 99,-21 90,-17 C80,-13 70,-10.3 61,-9.8 L38,-9.8 L14,-11.7" fill="none" stroke="#202020" stroke-width="1.1" stroke-linejoin="round" stroke-linecap="round" />
<path d="M113,29 C106,23.5 100,20 92,17 C82,13.5 70,11.8 59,11.4 L37,11.8" fill="none" stroke="#202020" stroke-width="1.1" stroke-linejoin="round" stroke-linecap="round" />
<path d="M130,-12.2 C122,-10 116,-8.7 112,-8.7 L95.5,-8.7" fill="none" stroke="#202020" stroke-width="1.1" stroke-linejoin="round" stroke-linecap="round" />
<path d="M127.5,13.7 C120,13.5 116,13 112,12.5 L96,8.4" fill="none" stroke="#202020" stroke-width="1.1" stroke-linejoin="round" stroke-linecap="round" />
<line x1="16.0" y1="-4.5" x2="61.5" y2="-1.0" stroke="#202020" stroke-width="1.1" />
<rect x="61.3" y="-6.0" width="14.0" height="12.6" rx="3.5" fill="#dadada" stroke="#202020" stroke-width="1.24" />
<rect x="178.0" y="-4.3" width="22.0" height="8.6" rx="4.3" fill="#f6f6f6" stroke="#202020" stroke-width="1.24" />
<polygon points="177.0,-7.5 186.0,-7.5 189.0,-4.0 189.0,4.0 186.0,7.5 177.0,7.5 175.3,4.0 175.3,-4.0" fill="#3c3c3c" stroke="#222" stroke-width="0.97" stroke-linejoin="round" />
<circle cx="182.0" cy="0.0" r="2.8" fill="#5a5a5a" stroke="#222" stroke-width="0.69"/>
</g>
<g transform="translate(0,1.0) scale(1,1)">
<path d="M-283.7,18 L-316.0,157.5 L-350,157.5 L-359.5,156.5 L-392,136 L-396,64 L-391,18 Z" fill="#dadada" stroke="#202020" stroke-width="1.38" stroke-linejoin="round" stroke-linecap="round" />
<line x1="-350.0" y1="20.0" x2="-350.0" y2="156.5" stroke="#202020" stroke-width="1.1" />
<line x1="-355.5" y1="20.0" x2="-355.5" y2="156.5" stroke="#202020" stroke-width="1.1" />
<line x1="-297.5" y1="22.0" x2="-325.0" y2="155.0" stroke="#202020" stroke-width="1.1" />
<line x1="-304.5" y1="22.0" x2="-331.5" y2="154.0" stroke="#202020" stroke-width="1.1" />
<line x1="-334.5" y1="20.0" x2="-343.0" y2="153.0" stroke="#202020" stroke-width="1.1" />
<line x1="-356.5" y1="147.0" x2="-373.0" y2="147.0" stroke="#202020" stroke-width="1.1" />
<line x1="-356.5" y1="134.0" x2="-390.0" y2="134.0" stroke="#202020" stroke-width="1.1" />
<line x1="-356.5" y1="120.6" x2="-390.0" y2="120.6" stroke="#202020" stroke-width="1.1" />
<line x1="-356.5" y1="107.7" x2="-390.0" y2="107.7" stroke="#202020" stroke-width="1.1" />
<line x1="-356.5" y1="94.7" x2="-379.5" y2="94.7" stroke="#202020" stroke-width="1.1" />
<line x1="-356.5" y1="81.7" x2="-379.5" y2="81.7" stroke="#202020" stroke-width="1.1" />
<line x1="-356.5" y1="68.7" x2="-379.5" y2="68.7" stroke="#202020" stroke-width="1.1" />
<line x1="-356.5" y1="55.7" x2="-379.5" y2="55.7" stroke="#202020" stroke-width="1.1" />
<line x1="-356.5" y1="42.7" x2="-390.0" y2="42.7" stroke="#202020" stroke-width="1.1" />
<line x1="-356.5" y1="29.7" x2="-390.0" y2="29.7" stroke="#202020" stroke-width="1.1" />
<polyline points="-392.5,95.3 -382.0,94.0 -383.5,52.0 -395.0,52.0" fill="none" stroke="#202020" stroke-width="1.1" stroke-linejoin="round" stroke-linecap="round" />
<rect x="-379.5" y="68.5" width="13.0" height="4.0" rx="2" fill="#dadada" stroke="#202020" stroke-width="1.1" />
<rect x="-353.3" y="67.0" width="5.4" height="5.0" rx="0" fill="#dadada" stroke="#202020" stroke-width="0.97" />
<path d="M-300.5,164.2 C-303,160.5 -312,159 -322,158.5 C-335,157.5 -345,157.5 -359,159.5 C-372,161 -385,162.5 -395,164.6 C-385,165.5 -372,167 -358,168.5 C-345,170.5 -330,171 -318,170 C-310,169.3 -303,167.5 -300.5,164.2 Z" fill="#dadada" stroke="#202020" stroke-width="1.38" stroke-linejoin="round" stroke-linecap="round" />
<path d="M-316,159 C-318,163 -318,166 -316,170" fill="none" stroke="#202020" stroke-width="0.97" stroke-linejoin="round" stroke-linecap="round" />
<path d="M-359,159.5 L-364,164 L-358,168.5 M-364,164 L-395,164.6" fill="none" stroke="#202020" stroke-width="0.97" stroke-linejoin="round" stroke-linecap="round" />
</g>
<g transform="translate(0,1.0) scale(1,-1)">
<path d="M-283.7,18 L-316.0,157.5 L-350,157.5 L-359.5,156.5 L-392,136 L-396,64 L-391,18 Z" fill="#dadada" stroke="#202020" stroke-width="1.38" stroke-linejoin="round" stroke-linecap="round" />
<line x1="-350.0" y1="20.0" x2="-350.0" y2="156.5" stroke="#202020" stroke-width="1.1" />
<line x1="-355.5" y1="20.0" x2="-355.5" y2="156.5" stroke="#202020" stroke-width="1.1" />
<line x1="-297.5" y1="22.0" x2="-325.0" y2="155.0" stroke="#202020" stroke-width="1.1" />
<line x1="-304.5" y1="22.0" x2="-331.5" y2="154.0" stroke="#202020" stroke-width="1.1" />
<line x1="-334.5" y1="20.0" x2="-343.0" y2="153.0" stroke="#202020" stroke-width="1.1" />
<line x1="-356.5" y1="147.0" x2="-373.0" y2="147.0" stroke="#202020" stroke-width="1.1" />
<line x1="-356.5" y1="134.0" x2="-390.0" y2="134.0" stroke="#202020" stroke-width="1.1" />
<line x1="-356.5" y1="120.6" x2="-390.0" y2="120.6" stroke="#202020" stroke-width="1.1" />
<line x1="-356.5" y1="107.7" x2="-390.0" y2="107.7" stroke="#202020" stroke-width="1.1" />
<line x1="-356.5" y1="94.7" x2="-379.5" y2="94.7" stroke="#202020" stroke-width="1.1" />
<line x1="-356.5" y1="81.7" x2="-379.5" y2="81.7" stroke="#202020" stroke-width="1.1" />
<line x1="-356.5" y1="68.7" x2="-379.5" y2="68.7" stroke="#202020" stroke-width="1.1" />
<line x1="-356.5" y1="55.7" x2="-379.5" y2="55.7" stroke="#202020" stroke-width="1.1" />
<line x1="-356.5" y1="42.7" x2="-390.0" y2="42.7" stroke="#202020" stroke-width="1.1" />
<line x1="-356.5" y1="29.7" x2="-390.0" y2="29.7" stroke="#202020" stroke-width="1.1" />
<polyline points="-392.5,95.3 -382.0,94.0 -383.5,52.0 -395.0,52.0" fill="none" stroke="#202020" stroke-width="1.1" stroke-linejoin="round" stroke-linecap="round" />
<rect x="-379.5" y="68.5" width="13.0" height="4.0" rx="2" fill="#dadada" stroke="#202020" stroke-width="1.1" />
<rect x="-353.3" y="67.0" width="5.4" height="5.0" rx="0" fill="#dadada" stroke="#202020" stroke-width="0.97" />
<path d="M-300.5,164.2 C-303,160.5 -312,159 -322,158.5 C-335,157.5 -345,157.5 -359,159.5 C-372,161 -385,162.5 -395,164.6 C-385,165.5 -372,167 -358,168.5 C-345,170.5 -330,171 -318,170 C-310,169.3 -303,167.5 -300.5,164.2 Z" fill="#dadada" stroke="#202020" stroke-width="1.38" stroke-linejoin="round" stroke-linecap="round" />
<path d="M-316,159 C-318,163 -318,166 -316,170" fill="none" stroke="#202020" stroke-width="0.97" stroke-linejoin="round" stroke-linecap="round" />
<path d="M-359,159.5 L-364,164 L-358,168.5 M-364,164 L-395,164.6" fill="none" stroke="#202020" stroke-width="0.97" stroke-linejoin="round" stroke-linecap="round" />
</g>
<g transform="translate(0,1.5)">
<path d="M-140,-30 C-132,-35.5 -116,-37 -106,-33" fill="#dadada" stroke="#202020" stroke-width="1.24" stroke-linejoin="round" stroke-linecap="round" />
<line x1="-135.6" y1="-34.1" x2="-161.4" y2="-41.2" stroke="#2a2a2a" stroke-width="2.8" stroke-linecap="round"/>
<path d="M-112,31 C-104,38.5 -86,39.5 -74,33" fill="#dadada" stroke="#202020" stroke-width="1.24" stroke-linejoin="round" stroke-linecap="round" />
<line x1="-107.3" y1="35.1" x2="-133.1" y2="40.6" stroke="#2a2a2a" stroke-width="2.8" stroke-linecap="round"/>
<line x1="-429.0" y1="-5.7" x2="-458.0" y2="-5.7" stroke="#2a2a2a" stroke-width="2.4" stroke-linecap="round"/>
<line x1="-429.0" y1="4.6" x2="-458.0" y2="4.6" stroke="#2a2a2a" stroke-width="2.4" stroke-linecap="round"/>
<line x1="358.0" y1="0.5" x2="387.0" y2="0.5" stroke="#2a2a2a" stroke-width="2.4" stroke-linecap="round"/>
<line x1="350.0" y1="19.5" x2="363.0" y2="19.5" stroke="#2a2a2a" stroke-width="2.4" stroke-linecap="round"/>
<path d="M361,0 L360,-5.5 L357,-11 L353.5,-15.5 L348,-20.3 L340,-23.6 L323,-26.6 L300,-30.2 L276,-32.4 L250,-33.5 L229,-34 L185,-35 L100,-35.3 L0,-35.3 L-75,-33.8 L-175,-29.3 L-284,-23 L-345,-20.3 L-387,-22.4 L-402,-22.8 L-421,-19.6 L-427,-17.5 L-429.5,-14 L-429.5,14 L-427,17.5 L-421,19.6 L-402,22.8 L-387,22.4 L-345,20.3 L-284,23 L-175,29.3 L-75,33.8 L0,35.3 L100,35.3 L185,35 L229,34 L250,33.5 L276,32.4 L300,30.2 L323,26.6 L340,23.6 L348,20.3 L353.5,15.5 L357,11 L360,5.5 L361,0Z" fill="#dadada" stroke="#202020" stroke-width="1.38" stroke-linejoin="round" stroke-linecap="round" />
<path d="M361,0 L360,-5.5 L357,-11 L353.5,-15.5 L348,-20.3 L340,-23.6 L323,-26.6 L300,-30.2 L276,-32.4 L276,32.4 L300,30.2 L323,26.6 L340,23.6 L348,20.3 L353.5,15.5 L357,11 L360,5.5 L361,0Z" fill="#ececec" stroke="#202020" stroke-width="1.24" stroke-linejoin="round" stroke-linecap="round" />
<polyline points="276.0,-32.4 276.0,32.4" fill="none" stroke="#2b2b2b" stroke-width="3.1" stroke-linejoin="round" stroke-linecap="round" />
<polyline points="276.0,-32.4 276.0,32.4" fill="none" stroke="#d9d9d9" stroke-width="1.66" stroke-linejoin="round" stroke-linecap="round" />
<polyline points="300.0,-30.2 300.0,30.2" fill="none" stroke="#2b2b2b" stroke-width="3.1" stroke-linejoin="round" stroke-linecap="round" />
<polyline points="300.0,-30.2 300.0,30.2" fill="none" stroke="#d9d9d9" stroke-width="1.66" stroke-linejoin="round" stroke-linecap="round" />
<polyline points="323.0,-26.6 323.0,26.6" fill="none" stroke="#2b2b2b" stroke-width="3.1" stroke-linejoin="round" stroke-linecap="round" />
<polyline points="323.0,-26.6 323.0,26.6" fill="none" stroke="#d9d9d9" stroke-width="1.66" stroke-linejoin="round" stroke-linecap="round" />
<polyline points="342.0,-22.0 348.0,-6.0 349.0,7.0 346.0,20.0" fill="none" stroke="#2b2b2b" stroke-width="3.1" stroke-linejoin="round" stroke-linecap="round" />
<polyline points="342.0,-22.0 348.0,-6.0 349.0,7.0 346.0,20.0" fill="none" stroke="#d9d9d9" stroke-width="1.66" stroke-linejoin="round" stroke-linecap="round" />
<polyline points="276.0,-10.5 297.0,-9.5 323.0,-7.0 347.0,-6.0 357.0,-6.5" fill="none" stroke="#2b2b2b" stroke-width="3.1" stroke-linejoin="round" stroke-linecap="round" />
<polyline points="276.0,-10.5 297.0,-9.5 323.0,-7.0 347.0,-6.0 357.0,-6.5" fill="none" stroke="#d9d9d9" stroke-width="1.66" stroke-linejoin="round" stroke-linecap="round" />
<polyline points="276.0,12.0 301.0,10.0 326.0,10.0 347.0,8.0 356.0,7.0" fill="none" stroke="#2b2b2b" stroke-width="3.1" stroke-linejoin="round" stroke-linecap="round" />
<polyline points="276.0,12.0 301.0,10.0 326.0,10.0 347.0,8.0 356.0,7.0" fill="none" stroke="#d9d9d9" stroke-width="1.66" stroke-linejoin="round" stroke-linecap="round" />
<path d="M361,0 L360,-5.5 L357,-11 L353.5,-15.5 L348,-20.3 L340,-23.6 L323,-26.6 L300,-30.2 L276,-32.4 L276,32.4 L300,30.2 L323,26.6 L340,23.6 L348,20.3 L353.5,15.5 L357,11 L360,5.5 L361,0Z" fill="none" stroke="#202020" stroke-width="1.38" stroke-linejoin="round" stroke-linecap="round" />
<path d="M360,-5.1 L357,-10.2 L353.5,-14.4 L348,-18.9 L340,-21.9 L323,-24.7 L300,-28.1 L276,-30.1 L276,30.1 L300,28.1 L323,24.7 L340,21.9 L348,18.9 L353.5,14.4 L357,10.2 L360,5.1" fill="none" stroke="#202020" stroke-width="0.97" stroke-linejoin="round" stroke-linecap="round" />
<line x1="261.0" y1="-33.0" x2="261.0" y2="33.0" stroke="#202020" stroke-width="1.24" />
<path d="M229,-33 C238,-32.5 248,-24 255,-9 C257,0 257,8 250,20 C244,29 237,32.5 229,33 Z" fill="#e3e3e3" stroke="#202020" stroke-width="1.38" stroke-linejoin="round" stroke-linecap="round" />
<path d="M229,-26.5 C238,-23 245,-13 247,-6 C249,2 247,12 243,18.5 C238,25 233,26.5 229,26.5 Z" fill="#ececec" stroke="#202020" stroke-width="1.38" stroke-linejoin="round" stroke-linecap="round" />
<path d="M229,-28.5 C239,-25 247,-14 249,-6 C251,2 249,13 244.5,20 C239,27 234,28.5 229,28.5" fill="none" stroke="#202020" stroke-width="0.97" stroke-linejoin="round" stroke-linecap="round" />
<line x1="241.0" y1="-28.0" x2="236.5" y2="-21.5" stroke="#202020" stroke-width="1.1" />
<line x1="249.5" y1="-19.0" x2="244.5" y2="-14.0" stroke="#202020" stroke-width="1.1" />
<line x1="229.0" y1="-33.5" x2="229.0" y2="33.5" stroke="#202020" stroke-width="1.38" />
<polygon points="200.6,-32.4 228.4,-29.1 228.9,-20.1 199.2,-23.4" fill="#ececec" stroke="#202020" stroke-width="1.66" stroke-linejoin="round" />
<polygon points="192.6,-14.9 225.1,-14.5 225.1,-5.0 195.9,-4.1 192.1,-7.9" fill="#ececec" stroke="#202020" stroke-width="1.66" stroke-linejoin="round" />
<polygon points="200.1,-2.7 224.2,-2.2 224.2,4.4 200.1,3.9" fill="#ececec" stroke="#202020" stroke-width="1.66" stroke-linejoin="round" />
<polygon points="191.2,10.0 194.5,5.8 224.6,6.7 225.1,15.7 193.0,15.7" fill="#ececec" stroke="#202020" stroke-width="1.66" stroke-linejoin="round" />
<polygon points="199.6,19.5 227.5,20.9 227.5,30.3 199.6,28.9" fill="#ececec" stroke="#202020" stroke-width="1.66" stroke-linejoin="round" />
<line x1="198.5" y1="-34.5" x2="198.5" y2="34.5" stroke="#202020" stroke-width="1.24" />
<line x1="176.3" y1="-35.0" x2="176.3" y2="35.0" stroke="#202020" stroke-width="1.24" />
<line x1="176.3" y1="-29.5" x2="198.5" y2="-29.5" stroke="#202020" stroke-width="1.1" />
<line x1="176.3" y1="-17.0" x2="198.5" y2="-17.0" stroke="#202020" stroke-width="1.1" />
<line x1="176.3" y1="18.0" x2="198.5" y2="18.0" stroke="#202020" stroke-width="1.1" />
<line x1="176.3" y1="31.0" x2="198.5" y2="31.0" stroke="#202020" stroke-width="1.1" />
<line x1="198.5" y1="-17.0" x2="229.0" y2="-17.0" stroke="#202020" stroke-width="1.1" />
<line x1="198.5" y1="18.0" x2="229.0" y2="18.0" stroke="#202020" stroke-width="1.1" />
<polyline points="-284.0,-19.2 -175.0,-25.3 -75.0,-29.6 0.0,-31.0 176.0,-31.0" fill="none" stroke="#202020" stroke-width="1.1" stroke-linejoin="round" stroke-linecap="round" />
<polyline points="-284.0,19.0 -175.0,25.0 -75.0,29.3 0.0,30.3 176.0,30.0" fill="none" stroke="#202020" stroke-width="1.1" stroke-linejoin="round" stroke-linecap="round" />
<line x1="142.0" y1="-13.5" x2="176.0" y2="-13.5" stroke="#202020" stroke-width="1.1" />
<line x1="142.0" y1="13.8" x2="176.0" y2="13.8" stroke="#202020" stroke-width="1.1" />
<circle cx="120.0" cy="0.2" r="22.7" fill="none" stroke="#777" stroke-width="1.1"/>
<circle cx="120.0" cy="0.2" r="21.3" fill="none" stroke="#777" stroke-width="1.1"/>
<rect x="100.5" y="-17.6" width="39.0" height="36.0" rx="9.5" fill="#efefef" stroke="#2b2b2b" stroke-width="1.38" />
<polyline points="120.5,-17.6 120.5,18.4" fill="none" stroke="#2b2b2b" stroke-width="2.9" stroke-linejoin="round" stroke-linecap="round" />
<polyline points="120.5,-17.6 120.5,18.4" fill="none" stroke="#d9d9d9" stroke-width="1.38" stroke-linejoin="round" stroke-linecap="round" />
<polyline points="120.5,-9.5 139.0,-9.5" fill="none" stroke="#2b2b2b" stroke-width="2.6" stroke-linejoin="round" stroke-linecap="round" />
<polyline points="120.5,-9.5 139.0,-9.5" fill="none" stroke="#d9d9d9" stroke-width="0.97" stroke-linejoin="round" stroke-linecap="round" />
<polyline points="120.5,9.8 139.0,9.8" fill="none" stroke="#2b2b2b" stroke-width="2.6" stroke-linejoin="round" stroke-linecap="round" />
<polyline points="120.5,9.8 139.0,9.8" fill="none" stroke="#d9d9d9" stroke-width="0.97" stroke-linejoin="round" stroke-linecap="round" />
<line x1="130.0" y1="-6.0" x2="130.0" y2="6.5" stroke="#333" stroke-width="2.0" />
<line x1="70.0" y1="-11.6" x2="100.0" y2="-11.6" stroke="#222" stroke-width="2.4" stroke-linecap="round"/>
<line x1="98.0" y1="-11.6" x2="117.6" y2="-11.6" stroke="#222" stroke-width="3.6" stroke-linecap="round"/>
<line x1="98.5" y1="-11.6" x2="117.0" y2="-11.6" stroke="#555" stroke-width="2.0" stroke-linecap="round"/>
<line x1="70.0" y1="11.0" x2="100.0" y2="11.0" stroke="#222" stroke-width="2.4" stroke-linecap="round"/>
<line x1="98.0" y1="11.0" x2="117.6" y2="11.0" stroke="#222" stroke-width="3.6" stroke-linecap="round"/>
<line x1="98.5" y1="11.0" x2="117.0" y2="11.0" stroke="#555" stroke-width="2.0" stroke-linecap="round"/>
<line x1="65.8" y1="-16.3" x2="65.8" y2="14.8" stroke="#111" stroke-width="1.3" stroke-dasharray="5.5 1.8"/>
<line x1="82.5" y1="-5.0" x2="82.5" y2="5.5" stroke="#222" stroke-width="1.52" />
<line x1="86.5" y1="-5.0" x2="86.5" y2="5.5" stroke="#222" stroke-width="1.52" />
<line x1="60.5" y1="-24.5" x2="65.5" y2="-24.5" stroke="#8a8a8a" stroke-width="1.6" />
<line x1="60.5" y1="22.8" x2="65.5" y2="22.8" stroke="#8a8a8a" stroke-width="1.6" />
<ellipse cx="40.4" cy="-12.1" rx="14.5" ry="4.5" fill="none" stroke="#3a3a3a" stroke-width="2.0" />
<ellipse cx="40.4" cy="11.5" rx="14.5" ry="4.5" fill="none" stroke="#3a3a3a" stroke-width="2.0" />
<line x1="-27.0" y1="-35.0" x2="-27.0" y2="35.0" stroke="#202020" stroke-width="1.1" />
<line x1="-73.0" y1="-35.0" x2="-73.0" y2="35.0" stroke="#202020" stroke-width="1.1" />
<line x1="-174.0" y1="-29.5" x2="-174.0" y2="29.5" stroke="#202020" stroke-width="1.1" />
<line x1="-204.0" y1="-29.5" x2="-204.0" y2="29.5" stroke="#202020" stroke-width="1.1" />
<rect x="-73.1" y="-31.0" width="42.5" height="17.7" rx="2.5" fill="#dadada" stroke="#202020" stroke-width="1.24" />
<ellipse cx="-37.0" cy="-24.0" rx="1.8" ry="1.1" fill="#999" stroke="#202020" stroke-width="0.83" />
<line x1="-284.0" y1="-23.0" x2="-284.0" y2="23.0" stroke="#202020" stroke-width="1.1" />
<line x1="-300.0" y1="-22.3" x2="-300.0" y2="22.3" stroke="#202020" stroke-width="1.1" />
<line x1="-345.0" y1="-20.3" x2="-345.0" y2="20.3" stroke="#202020" stroke-width="1.1" />
<line x1="-387.0" y1="-22.4" x2="-387.0" y2="22.4" stroke="#202020" stroke-width="1.1" />
<line x1="-352.0" y1="-20.5" x2="-352.0" y2="20.5" stroke="#202020" stroke-width="1.1" />
<path d="M-283,-20 C-292,-13 -303,-7 -313,-6 C-318,-6 -322,-8.5 -330,-10.5" fill="none" stroke="#444" stroke-width="1.38" stroke-linejoin="round" stroke-linecap="round" />
<path d="M-283,20 C-292,13 -303,5 -313,2" fill="none" stroke="#444" stroke-width="1.1" stroke-linejoin="round" stroke-linecap="round" />
<path d="M-309.0,-0.5C-307.7,-2.2 -309.5,-4.8 -313.0,-6.5C-316.5,-8.2 -323.2,-9.2 -330.0,-10.7C-336.8,-12.2 -346.3,-14.0 -353.6,-15.4C-360.9,-16.8 -367.3,-18.2 -373.6,-19.0C-379.9,-19.8 -385.5,-20.7 -391.3,-20.2C-397.1,-19.7 -405.1,-17.4 -408.4,-16.0C-411.7,-14.6 -410.9,-16.6 -411.3,-11.9C-411.7,-7.2 -412.2,7.6 -411.0,12.3C-409.8,17.0 -407.9,15.5 -404.2,16.4C-400.5,17.3 -395.6,18.0 -388.9,17.6C-382.2,17.2 -372.4,15.6 -364.2,14.0C-355.9,12.4 -346.7,9.9 -339.4,8.1C-332.1,6.3 -325.7,4.8 -320.6,3.4C-315.5,2.0 -310.3,1.2 -309.0,-0.5Z" fill="none" stroke="#3a3a3a" stroke-width="1.66" stroke-linejoin="round" stroke-linecap="round" />
<path d="M-354.3,-13.2C-357.6,-13.8 -367.8,-15.7 -374.0,-16.3C-380.2,-17.0 -385.7,-17.8 -391.4,-17.4C-397.1,-16.9 -405.0,-14.9 -408.3,-13.8C-411.6,-12.6 -410.7,-14.3 -411.1,-10.2C-411.6,-6.2 -412.0,6.5 -410.8,10.6C-409.7,14.6 -407.8,13.3 -404.1,14.1C-400.5,14.9 -395.6,15.5 -389.1,15.1C-382.5,14.8 -368.8,12.6 -364.7,12.0" fill="none" stroke="#3a3a3a" stroke-width="1.1" stroke-linejoin="round" stroke-linecap="round" />
<polygon points="-386.0,-14.5 -367.0,-11.6 -367.0,9.6 -388.0,7.2" fill="#ededed" stroke="#202020" stroke-width="1.24" stroke-linejoin="round" />
<polyline points="-409.5,-13.5 -400.7,-6.0 -402.5,4.3 -410.7,12.5" fill="none" stroke="#202020" stroke-width="1.24" stroke-linejoin="round" stroke-linecap="round" />
<polyline points="-386.0,-14.5 -400.7,-6.0" fill="none" stroke="#202020" stroke-width="1.1" stroke-linejoin="round" stroke-linecap="round" />
<polyline points="-388.0,7.2 -402.5,4.3" fill="none" stroke="#202020" stroke-width="1.1" stroke-linejoin="round" stroke-linecap="round" />
<line x1="-367.0" y1="-17.5" x2="-367.0" y2="13.5" stroke="#202020" stroke-width="1.1" />
<line x1="-387.0" y1="-20.0" x2="-387.0" y2="17.5" stroke="#202020" stroke-width="1.1" />
</g>
</g>
<g id="labels">
<text x="264.5" y="140.1" font-size="12.5" text-anchor="start" fill="#111" stroke="#111" stroke-width="0.35">112a-112e</text>
<line x1="285.7" y1="141.7" x2="275.0" y2="205.0" stroke="#1a1a1a" stroke-width="1.66" stroke-linecap="butt"/>
<text x="134.5" y="174.1" font-size="12.5" text-anchor="start" fill="#111" stroke="#111" stroke-width="0.35">110</text>
<line x1="146.0" y1="176.0" x2="156.0" y2="203.0" stroke="#1a1a1a" stroke-width="1.66" stroke-linecap="butt"/>
<text x="577.0" y="153.6" font-size="12.5" text-anchor="start" fill="#111" stroke="#111" stroke-width="0.35">108</text>
<line x1="586.0" y1="156.0" x2="556.0" y2="190.5" stroke="#1a1a1a" stroke-width="1.66" stroke-linecap="butt"/>
<text x="656.8" y="163.6" font-size="12.5" text-anchor="start" fill="#111" stroke="#111" stroke-width="0.35">100</text>
<line x1="678.0" y1="161.5" x2="722.0" y2="184.0" stroke="#1a1a1a" stroke-width="1.66" stroke-linecap="butt"/>
<text x="141.0" y="293.5" font-size="12.5" text-anchor="start" fill="#111" stroke="#111" stroke-width="0.35">125</text>
<line x1="161.7" y1="280.0" x2="173.5" y2="266.0" stroke="#1a1a1a" stroke-width="1.66" stroke-linecap="butt"/>
<text x="287.0" y="309.8" font-size="12.5" text-anchor="start" fill="#111" stroke="#111" stroke-width="0.35">131</text>
<line x1="300.0" y1="298.3" x2="326.0" y2="261.7" stroke="#1a1a1a" stroke-width="1.66" stroke-linecap="butt"/>
<text x="317.5" y="309.8" font-size="12.5" text-anchor="start" fill="#111" stroke="#111" stroke-width="0.35">118</text>
<line x1="328.3" y1="298.3" x2="346.7" y2="235.0" stroke="#1a1a1a" stroke-width="1.66" stroke-linecap="butt"/>
<text x="347.0" y="309.8" font-size="12.5" text-anchor="start" fill="#111" stroke="#111" stroke-width="0.35">102</text>
<line x1="356.7" y1="298.3" x2="369.3" y2="254.0" stroke="#1a1a1a" stroke-width="1.66" stroke-linecap="butt"/>
<text x="373.5" y="309.8" font-size="12.5" text-anchor="start" fill="#111" stroke="#111" stroke-width="0.35">121</text>
<line x1="383.3" y1="298.3" x2="390.7" y2="260.7" stroke="#1a1a1a" stroke-width="1.66" stroke-linecap="butt"/>
<text x="407.0" y="309.8" font-size="12.5" text-anchor="start" fill="#111" stroke="#111" stroke-width="0.35">116</text>
<line x1="416.0" y1="296.5" x2="402.8" y2="270.8" stroke="#1a1a1a" stroke-width="1.66" stroke-linecap="butt"/>
<text x="444.0" y="309.8" font-size="12.5" text-anchor="start" fill="#111" stroke="#111" stroke-width="0.35">120</text>
<line x1="450.0" y1="296.5" x2="398.0" y2="248.8" stroke="#1a1a1a" stroke-width="1.66" stroke-linecap="butt"/>
<text x="476.0" y="309.8" font-size="12.5" text-anchor="start" fill="#111" stroke="#111" stroke-width="0.35">124</text>
<line x1="488.0" y1="296.5" x2="497.2" y2="248.8" stroke="#1a1a1a" stroke-width="1.66" stroke-linecap="butt"/>
<text x="528.0" y="297.6" font-size="12.5" text-anchor="start" fill="#111" stroke="#111" stroke-width="0.35">113</text>
<line x1="536.0" y1="285.0" x2="516.0" y2="264.0" stroke="#1a1a1a" stroke-width="1.66" stroke-linecap="butt"/>
<text x="560.5" y="297.6" font-size="12.5" text-anchor="start" fill="#111" stroke="#111" stroke-width="0.35">127</text>
<line x1="568.0" y1="285.0" x2="531.2" y2="238.0" stroke="#1a1a1a" stroke-width="1.66" stroke-linecap="butt"/>
<text x="602.0" y="297.6" font-size="12.5" text-anchor="start" fill="#111" stroke="#111" stroke-width="0.35">109</text>
<line x1="610.0" y1="285.0" x2="560.0" y2="242.8" stroke="#1a1a1a" stroke-width="1.66" stroke-linecap="butt"/>
<text x="688.0" y="288.0" font-size="12.5" text-anchor="start" fill="#111" stroke="#111" stroke-width="0.35">126a</text>
<line x1="710.0" y1="276.0" x2="734.0" y2="248.0" stroke="#1a1a1a" stroke-width="1.66" stroke-linecap="butt"/>
<text x="352.5" y="524.0" font-size="12.5" text-anchor="start" fill="#111" stroke="#111" stroke-width="0.35">105+106*</text>
<line x1="376.0" y1="528.0" x2="358.0" y2="627.5" stroke="#1a1a1a" stroke-width="1.66" stroke-linecap="butt"/>
<text x="481.0" y="616.8" font-size="12.5" text-anchor="start" fill="#111" stroke="#111" stroke-width="0.35">111</text>
<line x1="490.8" y1="618.8" x2="482.8" y2="698.0" stroke="#1a1a1a" stroke-width="1.38" stroke-linecap="butt"/>
<text x="514.8" y="611.6" font-size="12.5" text-anchor="start" fill="#111" stroke="#111" stroke-width="0.35">129</text>
<line x1="522.8" y1="614.0" x2="492.0" y2="706.0" stroke="#1a1a1a" stroke-width="1.66" stroke-linecap="butt"/>
<text x="582.8" y="710.8" font-size="12.5" text-anchor="start" fill="#111" stroke="#111" stroke-width="0.35">103</text>
<line x1="580.0" y1="706.0" x2="519.2" y2="710.8" stroke="#1a1a1a" stroke-width="1.66" stroke-linecap="butt"/>
<text x="598.8" y="734.0" font-size="12.5" text-anchor="start" fill="#111" stroke="#111" stroke-width="0.35">111</text>
<line x1="596.0" y1="731.2" x2="516.0" y2="737.2" stroke="#1a1a1a" stroke-width="1.38" stroke-linecap="butt"/>
<text x="295.0" y="776.8" font-size="12.5" text-anchor="start" fill="#111" stroke="#111" stroke-width="0.35">105+106*</text>
<line x1="352.0" y1="768.0" x2="452.8" y2="702.0" stroke="#1a1a1a" stroke-width="1.66" stroke-linecap="butt"/>
<line x1="352.0" y1="768.0" x2="436.0" y2="722.0" stroke="#1a1a1a" stroke-width="1.66" stroke-linecap="butt"/>
<line x1="352.0" y1="768.0" x2="484.0" y2="732.0" stroke="#1a1a1a" stroke-width="1.66" stroke-linecap="butt"/>
<text x="298.5" y="805.2" font-size="12.5" text-anchor="start" fill="#111" stroke="#111" stroke-width="0.35">107a</text>
<line x1="328.9" y1="802.9" x2="368.9" y2="817.8" stroke="#444" stroke-width="0.97" stroke-linecap="butt"/>
<text x="364.0" y="936.4" font-size="12.5" text-anchor="start" fill="#111" stroke="#111" stroke-width="0.35">107b</text>
<line x1="373.3" y1="922.2" x2="370.7" y2="871.1" stroke="#444" stroke-width="0.97" stroke-linecap="butt"/>
<text x="424.4" y="896.4" font-size="12.5" text-anchor="start" fill="#111" stroke="#111" stroke-width="0.35">105+106*</text>
<line x1="455.6" y1="882.2" x2="493.3" y2="784.4" stroke="#1a1a1a" stroke-width="1.66" stroke-linecap="butt"/>
<line x1="455.6" y1="882.2" x2="511.0" y2="766.0" stroke="#1a1a1a" stroke-width="1.66" stroke-linecap="butt"/>
<text x="698.0" y="838.3" font-size="12.5" text-anchor="start" fill="#111" stroke="#111" stroke-width="0.35">105+106*</text>
<line x1="693.0" y1="833.0" x2="590.0" y2="854.5" stroke="#1a1a1a" stroke-width="1.66" stroke-linecap="butt"/>
</g>
<rect x="357.5" y="625.8" width="4.6" height="4.6" rx="0" fill="#cdcdcd" stroke="none" stroke-width="0" />
<circle cx="356.0" cy="632.0" r="3.7" fill="#6e6e6e" stroke="#4e4e4e" stroke-width="1.24"/>
<circle cx="356.0" cy="632.0" r="1.9" fill="#7c7c7c" stroke="#505050" stroke-width="0.83"/>
<rect x="458.7" y="693.8" width="4.6" height="4.6" rx="0" fill="#cdcdcd" stroke="none" stroke-width="0" />
<circle cx="457.2" cy="700.0" r="3.7" fill="#6e6e6e" stroke="#4e4e4e" stroke-width="1.24"/>
<circle cx="457.2" cy="700.0" r="1.9" fill="#7c7c7c" stroke="#505050" stroke-width="0.83"/>
<rect x="438.7" y="713.8" width="4.6" height="4.6" rx="0" fill="#cdcdcd" stroke="none" stroke-width="0" />
<circle cx="437.2" cy="720.0" r="3.7" fill="#6e6e6e" stroke="#4e4e4e" stroke-width="1.24"/>
<circle cx="437.2" cy="720.0" r="1.9" fill="#7c7c7c" stroke="#505050" stroke-width="0.83"/>
<rect x="487.5" y="724.6" width="4.6" height="4.6" rx="0" fill="#cdcdcd" stroke="none" stroke-width="0" />
<circle cx="486.0" cy="730.8" r="3.7" fill="#6e6e6e" stroke="#4e4e4e" stroke-width="1.24"/>
<circle cx="486.0" cy="730.8" r="1.9" fill="#7c7c7c" stroke="#505050" stroke-width="0.83"/>
<rect x="516.7" y="753.0" width="4.6" height="4.6" rx="0" fill="#cdcdcd" stroke="none" stroke-width="0" />
<circle cx="515.2" cy="759.2" r="3.7" fill="#6e6e6e" stroke="#4e4e4e" stroke-width="1.24"/>
<circle cx="515.2" cy="759.2" r="1.9" fill="#7c7c7c" stroke="#505050" stroke-width="0.83"/>
<rect x="497.5" y="771.0" width="4.6" height="4.6" rx="0" fill="#cdcdcd" stroke="none" stroke-width="0" />
<circle cx="496.0" cy="777.2" r="3.7" fill="#6e6e6e" stroke="#4e4e4e" stroke-width="1.24"/>
<circle cx="496.0" cy="777.2" r="1.9" fill="#7c7c7c" stroke="#505050" stroke-width="0.83"/>
<rect x="586.0" y="854.8" width="4.6" height="4.6" rx="0" fill="#cdcdcd" stroke="none" stroke-width="0" />
<circle cx="584.5" cy="861.0" r="3.7" fill="#6e6e6e" stroke="#4e4e4e" stroke-width="1.24"/>
<circle cx="584.5" cy="861.0" r="1.9" fill="#7c7c7c" stroke="#505050" stroke-width="0.83"/>
<g transform="translate(371.6,820.6) rotate(0)"><polyline points="-2.7,1.8 0,-1.3 2.7,1.8" fill="none" stroke="#8c8c8c" stroke-width="1.2"/></g>
<g transform="translate(347.6,844.9) rotate(-90)"><polyline points="-2.7,1.8 0,-1.3 2.7,1.8" fill="none" stroke="#8c8c8c" stroke-width="1.2"/></g>
<g transform="translate(395.3,843.6) rotate(90)"><polyline points="-2.7,1.8 0,-1.3 2.7,1.8" fill="none" stroke="#8c8c8c" stroke-width="1.2"/></g>
<g transform="translate(370.7,867.5) rotate(180)"><polyline points="-2.7,1.8 0,-1.3 2.7,1.8" fill="none" stroke="#8c8c8c" stroke-width="1.2"/></g>
<line x1="370.7" y1="868.5" x2="370.7" y2="871.0" stroke="#8c8c8c" stroke-width="1.38" />
<g font-weight="bold" fill="#0a0a0a" stroke="#0a0a0a" stroke-width="1.0" stroke-linejoin="round">
<text x="0" y="0" font-size="17" transform="translate(573.8,1212.5) scale(0.786,1)">*</text>
<text x="0" y="0" font-size="17" transform="translate(588.4,1213.4) scale(0.786,1)">Можливі варіанти 105+106 або тільки 106</text>
<text x="0" y="0" font-size="17" transform="translate(588.4,1234.8) scale(0.786,1)">Possible optons: 105+106 or solely 106</text>
</g>
</svg>
</body></html>
